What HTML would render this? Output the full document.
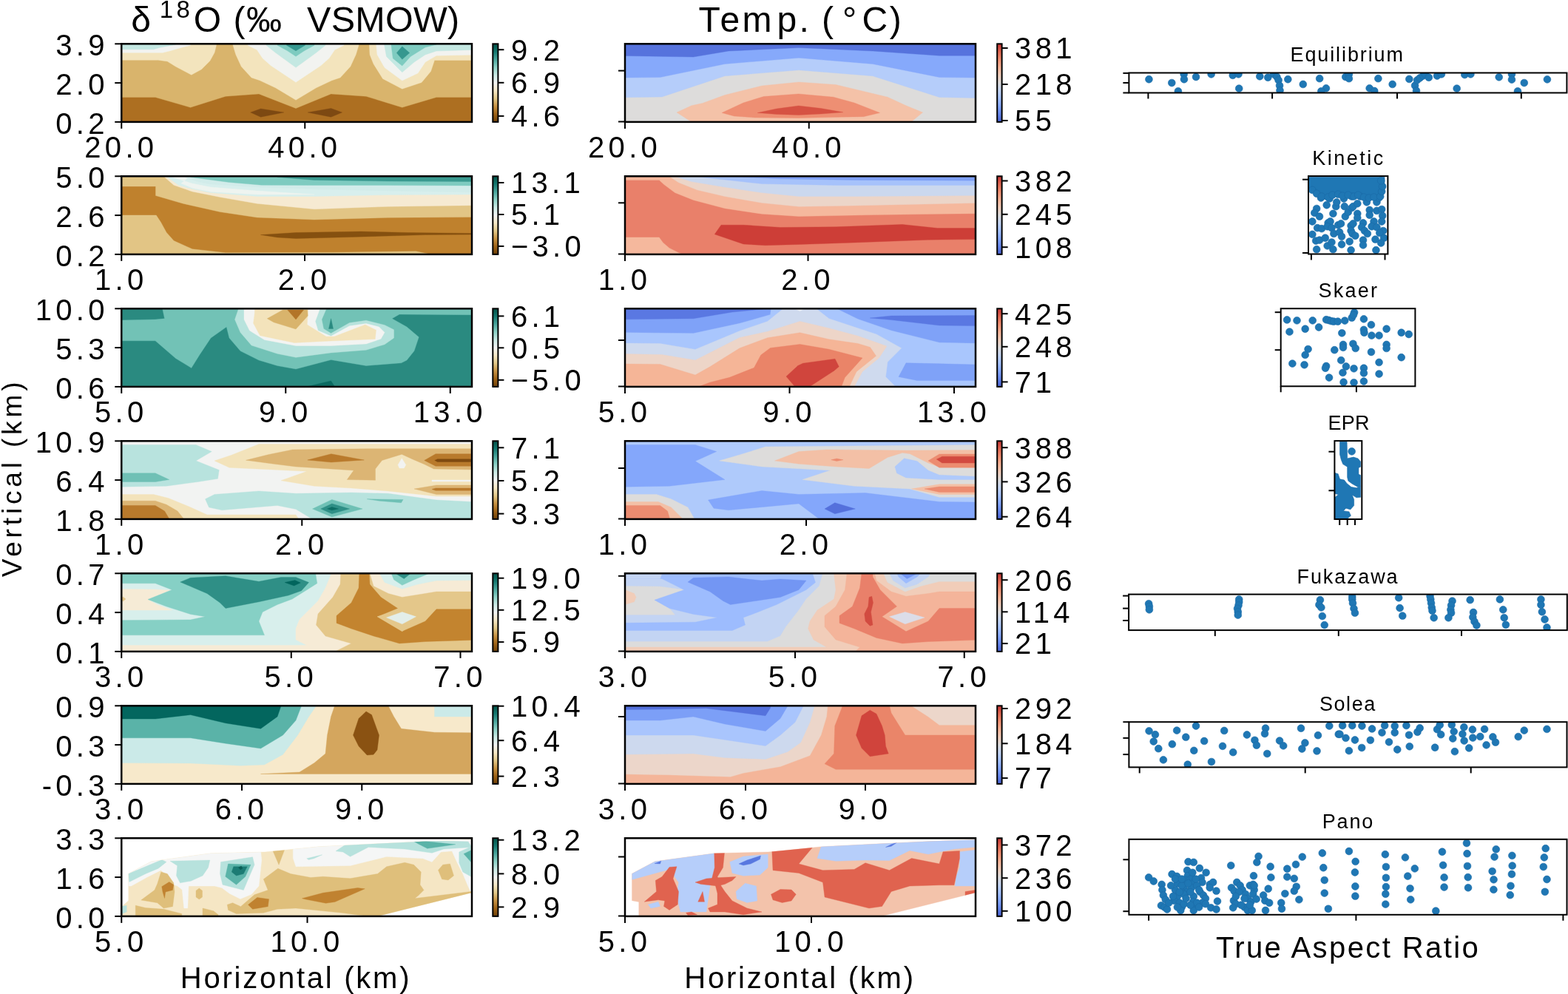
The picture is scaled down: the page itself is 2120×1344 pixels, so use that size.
<!DOCTYPE html><html><head><meta charset="utf-8"><style>html,body{margin:0;padding:0;background:#fff;width:2120px;height:1344px;overflow:hidden}</style></head><body><svg width="2120" height="1344" viewBox="0 0 2120 1344" style="display:block">
<rect x="0" y="0" width="2120" height="1344" fill="#fff"/>
<defs>
<clipPath id="cp00"><rect x="164.25" y="59.3" width="473.75" height="105.6"/></clipPath>
<clipPath id="cp01"><rect x="845.0" y="59.3" width="474.0" height="105.6"/></clipPath>
<clipPath id="cp10"><rect x="164.25" y="238.3" width="473.75" height="105.6"/></clipPath>
<clipPath id="cp11"><rect x="845.0" y="238.3" width="474.0" height="105.6"/></clipPath>
<clipPath id="cp20"><rect x="164.25" y="417.3" width="473.75" height="105.6"/></clipPath>
<clipPath id="cp21"><rect x="845.0" y="417.3" width="474.0" height="105.6"/></clipPath>
<clipPath id="cp30"><rect x="164.25" y="596.3" width="473.75" height="105.6"/></clipPath>
<clipPath id="cp31"><rect x="845.0" y="596.3" width="474.0" height="105.6"/></clipPath>
<clipPath id="cp40"><rect x="164.25" y="775.3" width="473.75" height="105.6"/></clipPath>
<clipPath id="cp41"><rect x="845.0" y="775.3" width="474.0" height="105.6"/></clipPath>
<clipPath id="cp50"><rect x="164.25" y="954.3" width="473.75" height="105.6"/></clipPath>
<clipPath id="cp51"><rect x="845.0" y="954.3" width="474.0" height="105.6"/></clipPath>
<clipPath id="cp60"><rect x="164.25" y="1133.3" width="473.75" height="105.6"/></clipPath>
<clipPath id="cp61"><rect x="845.0" y="1133.3" width="474.0" height="105.6"/></clipPath>
<linearGradient id="gb0" x1="0" y1="1" x2="0" y2="0"><stop offset="0.0" stop-color="#6e4007"/><stop offset="0.1" stop-color="#9f6317"/><stop offset="0.2" stop-color="#c89343"/><stop offset="0.3" stop-color="#e3c989"/><stop offset="0.4" stop-color="#f6e9c7"/><stop offset="0.5" stop-color="#f4f5f5"/><stop offset="0.6" stop-color="#cbebe6"/><stop offset="0.7" stop-color="#8dd2c7"/><stop offset="0.8" stop-color="#4aa69d"/><stop offset="0.9" stop-color="#147870"/><stop offset="1.0" stop-color="#005046"/></linearGradient>
<linearGradient id="gb1" x1="0" y1="1" x2="0" y2="0"><stop offset="0.0" stop-color="#6e4007"/><stop offset="0.1" stop-color="#9f6317"/><stop offset="0.2" stop-color="#c89343"/><stop offset="0.3" stop-color="#e3c989"/><stop offset="0.4" stop-color="#f6e9c7"/><stop offset="0.5" stop-color="#f4f5f5"/><stop offset="0.6" stop-color="#cbebe6"/><stop offset="0.7" stop-color="#8dd2c7"/><stop offset="0.8" stop-color="#4aa69d"/><stop offset="0.9" stop-color="#147870"/><stop offset="1.0" stop-color="#005046"/></linearGradient>
<linearGradient id="gb2" x1="0" y1="1" x2="0" y2="0"><stop offset="0.0" stop-color="#6e4007"/><stop offset="0.1" stop-color="#9f6317"/><stop offset="0.2" stop-color="#c89343"/><stop offset="0.3" stop-color="#e3c989"/><stop offset="0.4" stop-color="#f6e9c7"/><stop offset="0.5" stop-color="#f4f5f5"/><stop offset="0.6" stop-color="#cbebe6"/><stop offset="0.7" stop-color="#8dd2c7"/><stop offset="0.8" stop-color="#4aa69d"/><stop offset="0.9" stop-color="#147870"/><stop offset="1.0" stop-color="#005046"/></linearGradient>
<linearGradient id="gb3" x1="0" y1="1" x2="0" y2="0"><stop offset="0.0" stop-color="#6e4007"/><stop offset="0.1" stop-color="#9f6317"/><stop offset="0.2" stop-color="#c89343"/><stop offset="0.3" stop-color="#e3c989"/><stop offset="0.4" stop-color="#f6e9c7"/><stop offset="0.5" stop-color="#f4f5f5"/><stop offset="0.6" stop-color="#cbebe6"/><stop offset="0.7" stop-color="#8dd2c7"/><stop offset="0.8" stop-color="#4aa69d"/><stop offset="0.9" stop-color="#147870"/><stop offset="1.0" stop-color="#005046"/></linearGradient>
<linearGradient id="gb4" x1="0" y1="1" x2="0" y2="0"><stop offset="0.0" stop-color="#6e4007"/><stop offset="0.1" stop-color="#9f6317"/><stop offset="0.2" stop-color="#c89343"/><stop offset="0.3" stop-color="#e3c989"/><stop offset="0.4" stop-color="#f6e9c7"/><stop offset="0.5" stop-color="#f4f5f5"/><stop offset="0.6" stop-color="#cbebe6"/><stop offset="0.7" stop-color="#8dd2c7"/><stop offset="0.8" stop-color="#4aa69d"/><stop offset="0.9" stop-color="#147870"/><stop offset="1.0" stop-color="#005046"/></linearGradient>
<linearGradient id="gb5" x1="0" y1="1" x2="0" y2="0"><stop offset="0.0" stop-color="#6e4007"/><stop offset="0.1" stop-color="#9f6317"/><stop offset="0.2" stop-color="#c89343"/><stop offset="0.3" stop-color="#e3c989"/><stop offset="0.4" stop-color="#f6e9c7"/><stop offset="0.5" stop-color="#f4f5f5"/><stop offset="0.6" stop-color="#cbebe6"/><stop offset="0.7" stop-color="#8dd2c7"/><stop offset="0.8" stop-color="#4aa69d"/><stop offset="0.9" stop-color="#147870"/><stop offset="1.0" stop-color="#005046"/></linearGradient>
<linearGradient id="gb6" x1="0" y1="1" x2="0" y2="0"><stop offset="0.0" stop-color="#6e4007"/><stop offset="0.1" stop-color="#9f6317"/><stop offset="0.2" stop-color="#c89343"/><stop offset="0.3" stop-color="#e3c989"/><stop offset="0.4" stop-color="#f6e9c7"/><stop offset="0.5" stop-color="#f4f5f5"/><stop offset="0.6" stop-color="#cbebe6"/><stop offset="0.7" stop-color="#8dd2c7"/><stop offset="0.8" stop-color="#4aa69d"/><stop offset="0.9" stop-color="#147870"/><stop offset="1.0" stop-color="#005046"/></linearGradient>
<linearGradient id="gc" x1="0" y1="1" x2="0" y2="0"><stop offset="0.0" stop-color="#4961d2"/><stop offset="0.1" stop-color="#6687ed"/><stop offset="0.2" stop-color="#85a8fc"/><stop offset="0.3" stop-color="#a5c3fe"/><stop offset="0.4" stop-color="#c3d5f4"/><stop offset="0.5" stop-color="#dddcdc"/><stop offset="0.6" stop-color="#f1cdba"/><stop offset="0.7" stop-color="#f7b396"/><stop offset="0.8" stop-color="#f29072"/><stop offset="0.9" stop-color="#e16751"/><stop offset="1.0" stop-color="#c53334"/></linearGradient>
</defs>
<g clip-path="url(#cp00)">
<rect x="164.25" y="59.3" width="473.75" height="105.6" fill="#ad6f21"/>
<polygon transform="translate(150,49) scale(0.25)" points="755,412 810,392 935,412 810,437" fill="#7d4912" stroke="#7d4912" stroke-width="1.5"/>
<polygon transform="translate(150,49) scale(0.25)" points="1065,412 1190,390 1250,412 1190,437" fill="#7d4912" stroke="#7d4912" stroke-width="1.5"/>
<polygon transform="translate(150,49) scale(0.25)" points="0,0 2000,0 2000,330 1760,330 1575,385 1380,325 1190,312 1000,390 800,312 620,325 430,385 240,330 0,330" fill="#d9b46c" stroke="#d9b46c" stroke-width="1.5"/>
<polygon transform="translate(150,49) scale(0.25)" points="0,0 570,0 570,49 560,89 535,134 490,179 435,209 350,164 305,136 255,129 0,129" fill="#f3e4bd" stroke="#f3e4bd" stroke-width="1.5"/>
<polygon transform="translate(150,49) scale(0.25)" points="660,0 1340,0 1340,49 1325,99 1295,164 1240,224 1195,239 1110,279 1000,345 890,279 805,239 760,224 705,164 675,99 660,49" fill="#f3e4bd" stroke="#f3e4bd" stroke-width="1.5"/>
<polygon transform="translate(150,49) scale(0.25)" points="1395,0 2000,0 2000,130 1750,130 1730,190 1680,250 1575,285 1470,230 1420,150 1400,100" fill="#f3e4bd" stroke="#f3e4bd" stroke-width="1.5"/>
<polygon transform="translate(150,49) scale(0.25)" points="0,0 430,0 430,49 390,59 320,79 280,89 0,89" fill="#f2f3f0" stroke="#f2f3f0" stroke-width="1.5"/>
<polygon transform="translate(150,49) scale(0.25)" points="740,0 1260,0 1260,49 1210,74 1180,119 1135,159 1060,209 1000,249 940,209 865,159 820,119 790,74 740,49" fill="#f2f3f0" stroke="#f2f3f0" stroke-width="1.5"/>
<polygon transform="translate(150,49) scale(0.25)" points="1430,0 2000,0 2000,100 1760,105 1700,140 1660,200 1575,240 1480,170 1440,100" fill="#f2f3f0" stroke="#f2f3f0" stroke-width="1.5"/>
<polygon transform="translate(150,49) scale(0.25)" points="0,0 350,0 350,46 320,51 265,61 230,71 0,71" fill="#c4e8e2" stroke="#c4e8e2" stroke-width="1.5"/>
<polygon transform="translate(150,49) scale(0.25)" points="840,0 1160,0 1160,49 1110,89 1000,169 890,89 840,49" fill="#c4e8e2" stroke="#c4e8e2" stroke-width="1.5"/>
<polygon transform="translate(150,49) scale(0.25)" points="1470,0 2000,0 2000,72 1760,80 1700,100 1640,140 1575,195 1490,110" fill="#c4e8e2" stroke="#c4e8e2" stroke-width="1.5"/>
<polygon transform="translate(150,49) scale(0.25)" points="900,0 1100,0 1100,49 1045,79 1000,109 955,79 900,49" fill="#7ecbc0" stroke="#7ecbc0" stroke-width="1.5"/>
<polygon transform="translate(150,49) scale(0.25)" points="1510,0 1760,0 1760,45 1700,60 1620,110 1575,160 1525,120" fill="#7ecbc0" stroke="#7ecbc0" stroke-width="1.5"/>
<polygon transform="translate(150,49) scale(0.25)" points="950,0 1050,0 1050,49 1000,79 950,49" fill="#35978f" stroke="#35978f" stroke-width="1.5"/>
<polygon transform="translate(150,49) scale(0.25)" points="1545,90 1575,55 1615,90 1575,125" fill="#35978f" stroke="#35978f" stroke-width="1.5"/>
</g>
<rect x="164.25" y="59.3" width="473.75" height="105.6" fill="none" stroke="#000" stroke-width="2.5"/>
<g clip-path="url(#cp01)">
<rect x="845.0" y="59.3" width="474.0" height="105.6" fill="#dddcdb"/>
<polygon transform="translate(830,49) scale(0.25)" points="0,0 2000,0 2000,335 1760,330 1400,215 1000,183 600,215 260,328 0,332" fill="#b5cdfa" stroke="#b5cdfa" stroke-width="1.5"/>
<polygon transform="translate(830,49) scale(0.25)" points="0,0 2000,0 2000,225 1760,222 1400,150 1000,117 600,150 250,222 0,225" fill="#86a9fb" stroke="#86a9fb" stroke-width="1.5"/>
<polygon transform="translate(830,49) scale(0.25)" points="0,0 2000,0 2000,105 1760,105 1400,80 1000,62 620,80 430,112 0,105" fill="#5673dd" stroke="#5673dd" stroke-width="1.5"/>
<polygon transform="translate(830,49) scale(0.25)" points="340,412 420,375 480,362 600,318 800,268 1000,248 1200,262 1480,329 1580,375 1670,412 1600,470 430,470" fill="#f4c2a8" stroke="#f4c2a8" stroke-width="1.5"/>
<polygon transform="translate(830,49) scale(0.25)" points="584,414 700,360 810,326 999,312 1187,329 1300,360 1438,414 1350,435 1235,437 999,442 763,440 650,432" fill="#ee8f73" stroke="#ee8f73" stroke-width="1.5"/>
<polygon transform="translate(830,49) scale(0.25)" points="777,414 880,392 999,376 1120,390 1239,411 1120,420 999,426 880,422" fill="#d65243" stroke="#d65243" stroke-width="1.5"/>
</g>
<rect x="845.0" y="59.3" width="474.0" height="105.6" fill="none" stroke="#000" stroke-width="2.5"/>
<g clip-path="url(#cp10)">
<rect x="164.25" y="238.3" width="473.75" height="105.6" fill="#bf812d"/>
<polygon transform="translate(150,228) scale(0.25)" points="810,358 1000,346 1350,340 1600,346 1952,350 2000,350 2000,356 1700,358 1300,370 1000,378 900,372" fill="#85500f" stroke="#85500f" stroke-width="1.5"/>
<polygon transform="translate(150,228) scale(0.25)" points="0,0 2000,0 2000,262 1500,265 1100,276 790,264 590,234 390,189 242,146 242,96 0,96" fill="#e2c585" stroke="#e2c585" stroke-width="1.5"/>
<polygon transform="translate(150,228) scale(0.25)" points="0,252 245,252 270,290 300,345 340,390 440,435 620,455 1200,453 1650,447 1760,470 0,470" fill="#e2c585" stroke="#e2c585" stroke-width="1.5"/>
<polygon transform="translate(150,228) scale(0.25)" points="290,0 2000,0 2000,198 1500,205 1100,219 790,189 590,154 440,124 340,89 290,46" fill="#f6ead2" stroke="#f6ead2" stroke-width="1.5"/>
<polygon transform="translate(150,228) scale(0.25)" points="305,0 2000,0 2000,140 1500,142 1100,150 790,150 540,130 440,110 365,89 305,46" fill="#d8efed" stroke="#d8efed" stroke-width="1.5"/>
<polygon transform="translate(150,228) scale(0.25)" points="305,0 420,0 420,46 380,80 440,105 540,125 790,140 1100,140 790,120 540,100 440,80 330,46" fill="#eef4f0" stroke="#eef4f0" stroke-width="1.5"/>
<polygon transform="translate(150,228) scale(0.25)" points="400,0 2000,0 2000,128 1500,120 1100,110 790,100 540,84 470,70 400,46" fill="#d2ecea" stroke="#d2ecea" stroke-width="1.5"/>
<polygon transform="translate(150,228) scale(0.25)" points="430,0 2000,0 2000,92 1500,90 1100,90 815,89 640,74 430,46" fill="#7ecbc0" stroke="#7ecbc0" stroke-width="1.5"/>
<polygon transform="translate(150,228) scale(0.25)" points="900,0 2000,0 2000,70 1500,68 1100,62 900,46" fill="#3a9a90" stroke="#3a9a90" stroke-width="1.5"/>
</g>
<rect x="164.25" y="238.3" width="473.75" height="105.6" fill="none" stroke="#000" stroke-width="2.5"/>
<g clip-path="url(#cp11)">
<rect x="845.0" y="238.3" width="474.0" height="105.6" fill="#e9806a"/>
<polygon transform="translate(830,228) scale(0.25)" points="0,372 245,372 265,400 300,430 380,470 0,470" fill="#f5b89d" stroke="#f5b89d" stroke-width="1.5"/>
<polygon transform="translate(830,228) scale(0.25)" points="0,0 2000,0 2000,242 1400,250 1000,258 800,245 600,215 430,170 330,130 270,85 245,62 0,62" fill="#f5b89d" stroke="#f5b89d" stroke-width="1.5"/>
<polygon transform="translate(830,228) scale(0.25)" points="300,0 2000,0 2000,185 1300,200 1000,205 800,185 600,150 450,115 350,75 300,42" fill="#ecd5c8" stroke="#ecd5c8" stroke-width="1.5"/>
<polygon transform="translate(830,228) scale(0.25)" points="330,0 2000,0 2000,145 1300,150 1000,150 800,130 600,100 420,70 330,42" fill="#cbd8ee" stroke="#cbd8ee" stroke-width="1.5"/>
<polygon transform="translate(830,228) scale(0.25)" points="430,0 2000,0 2000,90 1200,90 800,82 600,60 430,42" fill="#a6c2fb" stroke="#a6c2fb" stroke-width="1.5"/>
<polygon transform="translate(830,228) scale(0.25)" points="600,0 2000,0 2000,65 1300,62 900,55 600,42" fill="#7fa0f6" stroke="#7fa0f6" stroke-width="1.5"/>
<polygon transform="translate(830,228) scale(0.25)" points="545,355 580,305 700,305 900,318 1200,315 1560,302 1750,322 2000,322 2000,382 1700,385 1300,400 1000,410 820,415 700,408" fill="#cd3e37" stroke="#cd3e37" stroke-width="1.5"/>
</g>
<rect x="845.0" y="238.3" width="474.0" height="105.6" fill="none" stroke="#000" stroke-width="2.5"/>
<g clip-path="url(#cp20)">
<rect x="164.25" y="417.3" width="473.75" height="105.6" fill="#2a8a80"/>
<polygon transform="translate(150,407) scale(0.25)" points="1030,470 1190,432 1215,470" fill="#0b6b62" stroke="#0b6b62" stroke-width="1.5"/>
<polygon transform="translate(150,407) scale(0.25)" points="0,105 240,100 290,95 270,0 2000,0 2000,75 1560,72 1520,95 1600,140 1665,195 1640,270 1600,320 1570,335 1380,350 1190,318 1000,368 900,350 800,320 700,270 640,200 625,140 540,200 480,290 435,362 350,310 240,215 0,215" fill="#72c2b6" stroke="#72c2b6" stroke-width="1.5"/>
<polygon transform="translate(150,407) scale(0.25)" points="1178,150 1190,95 1202,150" fill="#2a8a80" stroke="#2a8a80" stroke-width="1.5"/>
<polygon transform="translate(150,407) scale(0.25)" points="700,0 1165,0 1165,42 1140,100 1150,150 1190,175 1290,118 1380,105 1480,130 1530,155 1530,200 1480,235 1380,265 1190,280 1000,305 900,285 760,240 700,170 670,100 690,42" fill="#b8e3dd" stroke="#b8e3dd" stroke-width="1.5"/>
<polygon transform="translate(150,407) scale(0.25)" points="720,0 1130,0 1130,42 1105,110 1120,160 1190,190 1290,135 1380,122 1450,140 1480,170 1460,205 1380,232 1190,242 1000,242 830,210 750,160 720,100" fill="#f3f4f2" stroke="#f3f4f2" stroke-width="1.5"/>
<polygon transform="translate(150,407) scale(0.25)" points="780,0 1070,0 1066,49 1061,128 1164,192 1208,192 1375,128 1434,157 1429,206 1189,216 992,226 806,187 770,120 777,69" fill="#f3e3bb" stroke="#f3e3bb" stroke-width="1.5"/>
<polygon transform="translate(150,407) scale(0.25)" points="845,95 930,48 1062,48 1065,80 1000,152 880,115" fill="#d9b46c" stroke="#d9b46c" stroke-width="1.5"/>
<polygon transform="translate(150,407) scale(0.25)" points="955,48 1042,48 1000,100" fill="#b37528" stroke="#b37528" stroke-width="1.5"/>
</g>
<rect x="164.25" y="417.3" width="473.75" height="105.6" fill="none" stroke="#000" stroke-width="2.5"/>
<g clip-path="url(#cp21)">
<rect x="845.0" y="417.3" width="474.0" height="105.6" fill="#7fa2f8"/>
<polygon transform="translate(830,407) scale(0.25)" points="0,170 430,175 680,121 846,74 855,0 1119,0 1320,98 1500,160 1760,225 2000,230 2000,470 0,470" fill="#a9c6fd" stroke="#a9c6fd" stroke-width="1.5"/>
<polygon transform="translate(830,407) scale(0.25)" points="0,228 250,230 440,262 680,162 831,110 967,0 1042,0 1163,95 1320,147 1420,180 1555,255 1480,330 1470,410 1530,470 0,470" fill="#cfdaee" stroke="#cfdaee" stroke-width="1.5"/>
<polygon transform="translate(830,407) scale(0.25)" points="1580,335 2000,345 2000,430 1640,430 1540,410" fill="#7fa2f8" stroke="#7fa2f8" stroke-width="1.5"/>
<polygon transform="translate(830,407) scale(0.25)" points="0,285 260,290 440,320 680,198 831,165 1006,110 1163,147 1320,189 1476,244 1434,308 1344,382 1296,470 0,470" fill="#edd5c8" stroke="#edd5c8" stroke-width="1.5"/>
<polygon transform="translate(830,407) scale(0.25)" points="0,340 250,342 440,400 520,355 680,255 831,199 1006,171 1163,207 1320,230 1386,250 1418,297 1312,382 1270,470 0,470" fill="#f5b597" stroke="#f5b597" stroke-width="1.5"/>
<polygon transform="translate(830,407) scale(0.25)" points="440,470 520,440 626,413 758,361 795,292 846,254 1006,234 1163,261 1344,308 1249,414 1228,470" fill="#ea8468" stroke="#ea8468" stroke-width="1.5"/>
<polygon transform="translate(830,407) scale(0.25)" points="932,408 995,350 1022,337 1196,313 1217,355 1191,377 1048,470 985,470" fill="#d0453d" stroke="#d0453d" stroke-width="1.5"/>
<polygon transform="translate(830,407) scale(0.25)" points="0,0 840,0 830,42 640,60 430,95 0,100" fill="#5a78e2" stroke="#5a78e2" stroke-width="1.5"/>
<polygon transform="translate(830,407) scale(0.25)" points="1385,92 1500,80 2000,78 2000,135 1760,132 1500,102" fill="#5a78e2" stroke="#5a78e2" stroke-width="1.5"/>
<polygon transform="translate(830,407) scale(0.25)" points="975,40 1035,40 1006,55" fill="#e9edf4" stroke="#e9edf4" stroke-width="1.5"/>
</g>
<rect x="845.0" y="417.3" width="474.0" height="105.6" fill="none" stroke="#000" stroke-width="2.5"/>
<g clip-path="url(#cp30)">
<rect x="164.25" y="596.3" width="473.75" height="105.6" fill="#f2f3f2"/>
<polygon transform="translate(150,586) scale(0.25)" points="0,62 460,62 545,98 460,148 585,198 578,245 470,262 300,285 0,290" fill="#b8e3de" stroke="#b8e3de" stroke-width="1.5"/>
<polygon transform="translate(150,586) scale(0.25)" points="510,355 560,330 800,312 1000,325 1300,320 1500,325 1760,360 1952,370 2000,370 2000,470 1100,470 1000,410 900,390 600,415 530,400" fill="#b8e3de" stroke="#b8e3de" stroke-width="1.5"/>
<polygon transform="translate(150,586) scale(0.25)" points="0,215 240,215 315,250 240,262 0,262" fill="#6fc0b5" stroke="#6fc0b5" stroke-width="1.5"/>
<polygon transform="translate(150,586) scale(0.25)" points="1090,408 1195,358 1360,408 1195,452" fill="#6fc0b5" stroke="#6fc0b5" stroke-width="1.5"/>
<polygon transform="translate(150,586) scale(0.25)" points="1385,355 1580,358 1570,375 1450,365" fill="#6fc0b5" stroke="#6fc0b5" stroke-width="1.5"/>
<polygon transform="translate(150,586) scale(0.25)" points="1135,408 1195,380 1290,408 1195,435" fill="#2f8f86" stroke="#2f8f86" stroke-width="1.5"/>
<polygon transform="translate(150,586) scale(0.25)" points="1170,408 1195,398 1230,408 1195,416" fill="#0d6d64" stroke="#0d6d64" stroke-width="1.5"/>
<polygon transform="translate(150,586) scale(0.25)" points="560,148 650,118 800,58 2000,58 2000,340 1760,340 1500,312 1300,296 1100,285 920,255 1060,205 640,185" fill="#f3e3bb" stroke="#f3e3bb" stroke-width="1.5"/>
<polygon transform="translate(150,586) scale(0.25)" points="0,330 230,330 310,350 420,395 520,440 1000,440 1020,470 0,470" fill="#f3e3bb" stroke="#f3e3bb" stroke-width="1.5"/>
<polygon transform="translate(150,586) scale(0.25)" points="730,145 850,115 982,88 1389,83 2000,83 2000,197 1746,192 1695,167 1634,141 1573,113 1466,146 1430,192 1430,253 1277,250 1313,200 1000,180 880,165" fill="#dcb574" stroke="#dcb574" stroke-width="1.5"/>
<polygon transform="translate(150,586) scale(0.25)" points="1640,300 1760,280 2000,280 2000,330 1760,330" fill="#dcb574" stroke="#dcb574" stroke-width="1.5"/>
<polygon transform="translate(150,586) scale(0.25)" points="0,365 240,365 300,385 360,420 400,470 0,470" fill="#dcb574" stroke="#dcb574" stroke-width="1.5"/>
<polygon transform="translate(150,586) scale(0.25)" points="1063,144 1191,111 1369,144 1191,156" fill="#b97a2c" stroke="#b97a2c" stroke-width="1.5"/>
<polygon transform="translate(150,586) scale(0.25)" points="1695,146 1756,111 2000,111 2000,177 1756,177" fill="#b97a2c" stroke="#b97a2c" stroke-width="1.5"/>
<polygon transform="translate(150,586) scale(0.25)" points="1736,302 1756,296 2000,296 2000,309 1756,309" fill="#b97a2c" stroke="#b97a2c" stroke-width="1.5"/>
<polygon transform="translate(150,586) scale(0.25)" points="0,390 240,390 290,420 320,470 0,470" fill="#b97a2c" stroke="#b97a2c" stroke-width="1.5"/>
<polygon transform="translate(150,586) scale(0.25)" points="1751,146 1766,139 2000,139 2000,154 1766,154" fill="#7f4a10" stroke="#7f4a10" stroke-width="1.5"/>
<polygon transform="translate(150,586) scale(0.25)" points="1573,135 1595,170 1585,188 1560,188 1552,170" fill="#f2f3f2" stroke="#f2f3f2" stroke-width="1.5"/>
<polygon transform="translate(150,586) scale(0.25)" points="1736,252 2000,252 2000,260 1736,260" fill="#f2f3f2" stroke="#f2f3f2" stroke-width="1.5"/>
</g>
<rect x="164.25" y="596.3" width="473.75" height="105.6" fill="none" stroke="#000" stroke-width="2.5"/>
<g clip-path="url(#cp31)">
<rect x="845.0" y="596.3" width="474.0" height="105.6" fill="#afcafb"/>
<polygon transform="translate(830,586) scale(0.25)" points="0,62 440,62 555,98 440,150 600,250 300,285 0,290" fill="#84a7fb" stroke="#84a7fb" stroke-width="1.5"/>
<polygon transform="translate(830,586) scale(0.25)" points="510,360 800,310 1000,330 1360,322 1760,370 2000,372 2000,470 1120,470 1000,380 620,415 540,405" fill="#84a7fb" stroke="#84a7fb" stroke-width="1.5"/>
<polygon transform="translate(830,586) scale(0.25)" points="1140,408 1195,375 1305,408 1195,435" fill="#5470dc" stroke="#5470dc" stroke-width="1.5"/>
<polygon transform="translate(830,586) scale(0.25)" points="570,148 700,110 820,72 2000,62 2000,345 1760,345 1600,300 1300,285 1020,250 1170,200 800,180" fill="#dddcdb" stroke="#dddcdb" stroke-width="1.5"/>
<polygon transform="translate(830,586) scale(0.25)" points="1520,180 1570,135 1640,150 1700,200 1760,225 2000,235 2000,250 1760,250 1580,240 1530,215" fill="#afcafb" stroke="#afcafb" stroke-width="1.5"/>
<polygon transform="translate(830,586) scale(0.25)" points="870,148 1000,98 1150,88 1580,92 2000,90 2000,185 1760,182 1700,160 1600,110 1560,105 1480,130 1380,190 1200,180 1000,165" fill="#f3c0a6" stroke="#f3c0a6" stroke-width="1.5"/>
<polygon transform="translate(830,586) scale(0.25)" points="1175,143 1205,136 1240,143 1205,150" fill="#ec8c70" stroke="#ec8c70" stroke-width="1.5"/>
<polygon transform="translate(830,586) scale(0.25)" points="1700,148 1760,112 2000,112 2000,185 1760,185" fill="#ec8c70" stroke="#ec8c70" stroke-width="1.5"/>
<polygon transform="translate(830,586) scale(0.25)" points="1745,140 1775,125 2000,125 2000,160 1775,160" fill="#d24a40" stroke="#d24a40" stroke-width="1.5"/>
<polygon transform="translate(830,586) scale(0.25)" points="1610,300 1760,275 2000,275 2000,330 1760,330" fill="#f3c0a6" stroke="#f3c0a6" stroke-width="1.5"/>
<polygon transform="translate(830,586) scale(0.25)" points="1680,300 1760,288 2000,288 2000,318 1760,318" fill="#ec8c70" stroke="#ec8c70" stroke-width="1.5"/>
<polygon transform="translate(830,586) scale(0.25)" points="0,330 230,330 310,355 400,400 440,470 0,470" fill="#dddcdb" stroke="#dddcdb" stroke-width="1.5"/>
<polygon transform="translate(830,586) scale(0.25)" points="0,370 240,370 310,400 380,470 0,470" fill="#f3c0a6" stroke="#f3c0a6" stroke-width="1.5"/>
<polygon transform="translate(830,586) scale(0.25)" points="0,390 250,390 290,420 305,470 0,470" fill="#ec8c70" stroke="#ec8c70" stroke-width="1.5"/>
</g>
<rect x="845.0" y="596.3" width="474.0" height="105.6" fill="none" stroke="#000" stroke-width="2.5"/>
<g clip-path="url(#cp40)">
<rect x="164.25" y="775.3" width="473.75" height="105.6" fill="#d8efec"/>
<polygon transform="translate(150,765) scale(0.25)" points="1210,0 2000,0 2000,470 0,470 0,430 1060,430 1000,400 1000,340 1020,290 1070,240 1120,190 1160,120" fill="#f6ebd6" stroke="#f6ebd6" stroke-width="1.5"/>
<polygon transform="translate(150,765) scale(0.25)" points="0,125 240,128 320,132 200,182 250,210 330,240 0,240" fill="#f6ebd6" stroke="#f6ebd6" stroke-width="1.5"/>
<polygon transform="translate(150,765) scale(0.25)" points="50,180 65,168 80,180 65,192" fill="#e4c78a" stroke="#e4c78a" stroke-width="1.5"/>
<polygon transform="translate(150,765) scale(0.25)" points="0,0 1100,0 1115,95 1060,130 980,180 900,210 820,250 800,300 830,375 0,375 0,295 430,292 510,275 430,262 300,220 200,182 330,130 240,95 0,95" fill="#86d0c5" stroke="#86d0c5" stroke-width="1.5"/>
<polygon transform="translate(150,765) scale(0.25)" points="375,88 430,65 620,55 800,85 920,62 1000,62 1070,90 1030,135 960,160 800,195 620,230 590,200 520,150 450,120" fill="#2f8f86" stroke="#2f8f86" stroke-width="1.5"/>
<polygon transform="translate(150,765) scale(0.25)" points="940,90 995,78 1025,92 990,108" fill="#02655d" stroke="#02655d" stroke-width="1.5"/>
<polygon transform="translate(150,765) scale(0.25)" points="1245,0 1400,0 1400,42 1420,110 1500,150 1575,170 1700,150 1760,140 2000,140 2000,470 1200,470 1300,420 1160,380 1110,320 1120,260 1200,170 1240,100" fill="#e4c78a" stroke="#e4c78a" stroke-width="1.5"/>
<polygon transform="translate(150,765) scale(0.25)" points="1430,0 2000,0 2000,78 1760,80 1660,100 1575,125 1480,90" fill="#d8efec" stroke="#d8efec" stroke-width="1.5"/>
<polygon transform="translate(150,765) scale(0.25)" points="1500,0 1720,0 1720,42 1640,75 1575,105 1530,75" fill="#86d0c5" stroke="#86d0c5" stroke-width="1.5"/>
<polygon transform="translate(150,765) scale(0.25)" points="1540,42 1620,42 1585,70" fill="#2f8f86" stroke="#2f8f86" stroke-width="1.5"/>
<polygon transform="translate(150,765) scale(0.25)" points="1345,0 1395,0 1400,100 1460,170 1550,230 1440,275 1575,355 1700,300 1760,235 2000,235 2000,400 1700,410 1560,420 1420,380 1300,340 1220,310 1220,270 1300,200 1340,120" fill="#c3842f" stroke="#c3842f" stroke-width="1.5"/>
<polygon transform="translate(150,765) scale(0.25)" points="1440,275 1560,240 1670,275 1575,355" fill="#e4c78a" stroke="#e4c78a" stroke-width="1.5"/>
<polygon transform="translate(150,765) scale(0.25)" points="1490,280 1575,250 1650,275 1575,315" fill="#e3eeea" stroke="#e3eeea" stroke-width="1.5"/>
</g>
<rect x="164.25" y="775.3" width="473.75" height="105.6" fill="none" stroke="#000" stroke-width="2.5"/>
<g clip-path="url(#cp41)">
<rect x="845.0" y="775.3" width="474.0" height="105.6" fill="#c3d4f3"/>
<polygon transform="translate(830,765) scale(0.25)" points="1130,0 2000,0 2000,470 0,470 0,410 830,410 900,380 930,330 1000,240 1040,180 1110,110 1130,42" fill="#dcdcdc" stroke="#dcdcdc" stroke-width="1.5"/>
<polygon transform="translate(830,765) scale(0.25)" points="0,110 250,112 380,130 220,185 300,230 330,265 0,265" fill="#dcdcdc" stroke="#dcdcdc" stroke-width="1.5"/>
<polygon transform="translate(830,765) scale(0.25)" points="1185,0 2000,0 2000,470 0,470 0,440 1150,440 1080,400 1050,340 1060,300 1100,240 1190,180 1200,130" fill="#f1cdb9" stroke="#f1cdb9" stroke-width="1.5"/>
<polygon transform="translate(830,765) scale(0.25)" points="60,130 110,150 120,170 110,195 60,210" fill="#f1cdb9" stroke="#f1cdb9" stroke-width="1.5"/>
<polygon transform="translate(830,765) scale(0.25)" points="1265,0 1400,0 1420,80 1500,140 1580,165 1700,150 1760,140 2000,140 2000,470 1300,470 1330,440 1200,400 1140,330 1140,270 1200,220 1250,130" fill="#f4b49a" stroke="#f4b49a" stroke-width="1.5"/>
<polygon transform="translate(830,765) scale(0.25)" points="1440,0 2000,0 2000,85 1760,85 1660,110 1575,140 1480,90" fill="#dcdcdc" stroke="#dcdcdc" stroke-width="1.5"/>
<polygon transform="translate(830,765) scale(0.25)" points="1470,0 1740,0 1700,60 1640,100 1575,120 1510,80" fill="#c3d4f3" stroke="#c3d4f3" stroke-width="1.5"/>
<polygon transform="translate(830,765) scale(0.25)" points="1510,0 1700,0 1640,60 1580,95 1540,60" fill="#9dbcfe" stroke="#9dbcfe" stroke-width="1.5"/>
<polygon transform="translate(830,765) scale(0.25)" points="1550,42 1640,42 1585,70" fill="#7396f3" stroke="#7396f3" stroke-width="1.5"/>
<polygon transform="translate(830,765) scale(0.25)" points="0,0 1060,0 1090,90 1040,130 960,170 880,210 780,250 700,280 710,320 640,350 0,350 0,310 440,305 560,280 430,262 300,230 220,185 380,130 260,70 0,70" fill="#9dbcfe" stroke="#9dbcfe" stroke-width="1.5"/>
<polygon transform="translate(830,765) scale(0.25)" points="0,0 260,0 260,42 250,70 0,70" fill="#c3d4f3" stroke="#c3d4f3" stroke-width="1.5"/>
<polygon transform="translate(830,765) scale(0.25)" points="400,88 430,65 620,60 800,80 900,72 1040,80 1000,130 900,170 800,185 630,210 590,190 520,140" fill="#7396f3" stroke="#7396f3" stroke-width="1.5"/>
<polygon transform="translate(830,765) scale(0.25)" points="1345,0 1400,0 1400,60 1440,130 1530,220 1450,275 1580,355 1700,300 1760,230 2000,230 2000,400 1700,410 1560,420 1420,390 1300,340 1220,310 1220,270 1290,220 1330,120" fill="#e9806a" stroke="#e9806a" stroke-width="1.5"/>
<polygon transform="translate(830,765) scale(0.25)" points="1490,275 1575,250 1680,280 1575,315" fill="#dcdde8" stroke="#dcdde8" stroke-width="1.5"/>
<polygon transform="translate(830,765) scale(0.25)" points="1380,170 1395,165 1402,200 1390,250 1400,320 1385,325 1360,300 1355,260 1375,220" fill="#d24b40" stroke="#d24b40" stroke-width="1.5"/>
</g>
<rect x="845.0" y="775.3" width="474.0" height="105.6" fill="none" stroke="#000" stroke-width="2.5"/>
<g clip-path="url(#cp50)">
<rect x="164.25" y="954.3" width="473.75" height="105.6" fill="#f7e9cb"/>
<polygon transform="translate(150,944) scale(0.25)" points="0,0 1110,0 1110,42 1070,100 1010,200 930,305 830,360 700,365 430,352 0,350" fill="#cbeae8" stroke="#cbeae8" stroke-width="1.5"/>
<polygon transform="translate(150,944) scale(0.25)" points="1750,42 2000,42 2000,100 1750,100" fill="#cbeae8" stroke="#cbeae8" stroke-width="1.5"/>
<polygon transform="translate(150,944) scale(0.25)" points="0,0 1040,0 1030,42 1000,120 930,200 810,272 620,245 430,215 0,215" fill="#5ab3a8" stroke="#5ab3a8" stroke-width="1.5"/>
<polygon transform="translate(150,944) scale(0.25)" points="0,0 930,0 920,42 900,100 810,165 620,135 430,90 240,112 0,112" fill="#03665e" stroke="#03665e" stroke-width="1.5"/>
<polygon transform="translate(150,944) scale(0.25)" points="1215,0 1490,0 1500,42 1530,100 1570,165 1750,185 2000,188 2000,410 810,410 1020,400 1100,350 1160,300 1170,200 1190,100 1210,42" fill="#d4a65e" stroke="#d4a65e" stroke-width="1.5"/>
<polygon transform="translate(150,944) scale(0.25)" points="1310,200 1340,110 1380,72 1410,90 1450,200 1440,280 1420,305 1385,308 1340,260" fill="#8a5212" stroke="#8a5212" stroke-width="1.5"/>
</g>
<rect x="164.25" y="954.3" width="473.75" height="105.6" fill="none" stroke="#000" stroke-width="2.5"/>
<g clip-path="url(#cp51)">
<rect x="845.0" y="954.3" width="474.0" height="105.6" fill="#f4b599"/>
<polygon transform="translate(830,944) scale(0.25)" points="0,0 1160,0 1150,100 1120,200 1060,310 900,370 700,405 630,425 300,415 0,410" fill="#ecd6ca" stroke="#ecd6ca" stroke-width="1.5"/>
<polygon transform="translate(830,944) scale(0.25)" points="1600,0 2000,0 2000,145 1760,145 1700,100 1610,42" fill="#ecd6ca" stroke="#ecd6ca" stroke-width="1.5"/>
<polygon transform="translate(830,944) scale(0.25)" points="0,0 1095,0 1085,42 1060,130 1010,240 940,290 820,330 600,322 430,300 0,305" fill="#cdd9ee" stroke="#cdd9ee" stroke-width="1.5"/>
<polygon transform="translate(830,944) scale(0.25)" points="0,0 1030,0 1025,42 980,130 900,200 820,258 600,225 430,200 0,200" fill="#a9c5fd" stroke="#a9c5fd" stroke-width="1.5"/>
<polygon transform="translate(830,944) scale(0.25)" points="0,0 950,0 940,42 900,110 820,178 600,140 430,100 250,120 0,120" fill="#7c9ff7" stroke="#7c9ff7" stroke-width="1.5"/>
<polygon transform="translate(830,944) scale(0.25)" points="0,0 860,0 845,55 820,95 700,80 500,55 250,60 0,62" fill="#5572dd" stroke="#5572dd" stroke-width="1.5"/>
<polygon transform="translate(830,944) scale(0.25)" points="1140,355 1190,300 1195,150 1230,60 1250,0 1480,0 1500,80 1575,200 2000,200 2000,385 1200,385" fill="#ea8569" stroke="#ea8569" stroke-width="1.5"/>
<polygon transform="translate(830,944) scale(0.25)" points="1310,200 1340,95 1385,65 1420,85 1450,150 1465,200 1470,260 1485,300 1385,315 1340,270" fill="#d0443c" stroke="#d0443c" stroke-width="1.5"/>
</g>
<rect x="845.0" y="954.3" width="474.0" height="105.6" fill="none" stroke="#000" stroke-width="2.5"/>
<g clip-path="url(#cp60)">
<rect x="164.25" y="1133.3" width="473.75" height="105.6" fill="#ffffff"/>
<polygon transform="translate(150,1123) scale(0.25)" points="95,233 219,167 540,123 832,116 1124,87 1416,72 1708,58 1957,50 2000,50 2000,330 1956,335 1416,470 60,470 60,410 95,379" fill="#f5e6c4" stroke="#f5e6c4" stroke-width="1.5"/>
<clipPath id="dc60"><polygon transform="translate(150,1123) scale(0.25)" points="95,233 219,167 540,123 832,116 1124,87 1416,72 1708,58 1957,50 2000,50 2000,330 1956,335 1416,470 60,470 60,410 95,379"/></clipPath><g clip-path="url(#dc60)">
<polygon transform="translate(150,1123) scale(0.25)" points="0,0 800,0 815,160 800,300 760,345 700,370 640,340 600,310 560,300 470,300 420,300 415,420 395,420 385,320 360,300 330,290 300,240 270,215 200,250 110,300 0,300" fill="#f5f6f6" stroke="#f5f6f6" stroke-width="1.5"/>
<polygon transform="translate(150,1123) scale(0.25)" points="985,0 2000,0 2000,335 1947,335 1932,303 1903,234 1873,175 1844,111 1785,116 1736,170 1687,151 1491,141 1294,190 1000,195 985,150" fill="#f5f6f6" stroke="#f5f6f6" stroke-width="1.5"/>
<polygon transform="translate(150,1123) scale(0.25)" points="94,234 275,158 300,170 256,205 187,234 99,278" fill="#b7e2dd" stroke="#b7e2dd" stroke-width="1.5"/>
<polygon transform="translate(150,1123) scale(0.25)" points="320,165 535,160 526,200 496,244 432,273 374,283 354,244 359,190" fill="#b7e2dd" stroke="#b7e2dd" stroke-width="1.5"/>
<polygon transform="translate(150,1123) scale(0.25)" points="594,170 766,143 776,185 742,263 717,322 604,293 590,234" fill="#b7e2dd" stroke="#b7e2dd" stroke-width="1.5"/>
<polygon transform="translate(150,1123) scale(0.25)" points="1216,111 1275,72 1491,57 1623,52 1932,60 1952,90 1800,100 1736,121 1589,100 1392,90 1294,141 1255,116" fill="#b7e2dd" stroke="#b7e2dd" stroke-width="1.5"/>
<polygon transform="translate(150,1123) scale(0.25)" points="1883,116 1947,87 1947,249 1903,224 1883,175" fill="#b7e2dd" stroke="#b7e2dd" stroke-width="1.5"/>
<polygon transform="translate(150,1123) scale(0.25)" points="1059,151 1142,131 1098,151 1069,158" fill="#b7e2dd" stroke="#b7e2dd" stroke-width="1.5"/>
<polygon transform="translate(150,1123) scale(0.25)" points="60,410 85,405 85,440 60,450" fill="#b7e2dd" stroke="#b7e2dd" stroke-width="1.5"/>
<polygon transform="translate(150,1123) scale(0.25)" points="634,180 756,185 727,249 678,293 619,249" fill="#5ab3a8" stroke="#5ab3a8" stroke-width="1.5"/>
<polygon transform="translate(150,1123) scale(0.25)" points="1623,50 1863,75 1711,97 1662,72" fill="#5ab3a8" stroke="#5ab3a8" stroke-width="1.5"/>
<polygon transform="translate(150,1123) scale(0.25)" points="1908,126 1947,107 1947,170" fill="#5ab3a8" stroke="#5ab3a8" stroke-width="1.5"/>
<polygon transform="translate(150,1123) scale(0.25)" points="663,195 737,195 717,234 678,244 653,224" fill="#1c7c74" stroke="#1c7c74" stroke-width="1.5"/>
<polygon transform="translate(150,1123) scale(0.25)" points="690,200 705,192 712,205 700,212" fill="#0b5e55" stroke="#0b5e55" stroke-width="1.5"/>
<polygon transform="translate(150,1123) scale(0.25)" points="271,224 305,234 339,283 344,332 334,411 285,420 251,391 163,376 236,322 251,288" fill="#dfbf7b" stroke="#dfbf7b" stroke-width="1.5"/>
<polygon transform="translate(150,1123) scale(0.25)" points="133,405 187,418 285,425 383,450 383,470 133,470" fill="#dfbf7b" stroke="#dfbf7b" stroke-width="1.5"/>
<polygon transform="translate(150,1123) scale(0.25)" points="477,312 494,325 494,360 477,372 460,360 460,325" fill="#dfbf7b" stroke="#dfbf7b" stroke-width="1.5"/>
<polygon transform="translate(150,1123) scale(0.25)" points="496,420 555,435 580,455 580,470 496,470" fill="#dfbf7b" stroke="#dfbf7b" stroke-width="1.5"/>
<polygon transform="translate(150,1123) scale(0.25)" points="874,106 938,106 908,185" fill="#dfbf7b" stroke="#dfbf7b" stroke-width="1.5"/>
<polygon transform="translate(150,1123) scale(0.25)" points="629,401 658,391 702,411 776,347 849,322 825,263 903,205 972,234 1080,254 1147,249 1294,259 1442,234 1491,195 1589,173 1638,185 1677,224 1672,293 1692,322 1662,352 1643,367 1947,330 1952,345 1442,470 1250,445 1000,420 900,425 825,445 678,450 634,430" fill="#dfbf7b" stroke="#dfbf7b" stroke-width="1.5"/>
<polygon transform="translate(150,1123) scale(0.25)" points="1770,214 1795,185 1834,180 1854,244 1824,268 1790,263" fill="#dfbf7b" stroke="#dfbf7b" stroke-width="1.5"/>
<polygon transform="translate(150,1123) scale(0.25)" points="275,303 315,278 339,293 334,322 295,332 290,366 280,332" fill="#c08230" stroke="#c08230" stroke-width="1.5"/>
<polygon transform="translate(150,1123) scale(0.25)" points="742,401 791,362 854,371 849,411 766,425" fill="#c08230" stroke="#c08230" stroke-width="1.5"/>
<polygon transform="translate(150,1123) scale(0.25)" points="1034,367 1147,337 1334,310 1373,315 1211,386 1162,393 1049,371" fill="#c08230" stroke="#c08230" stroke-width="1.5"/>
</g></g>
<rect x="164.25" y="1133.3" width="473.75" height="105.6" fill="none" stroke="#000" stroke-width="2.5"/>
<g clip-path="url(#cp61)">
<rect x="845.0" y="1133.3" width="474.0" height="105.6" fill="#ffffff"/>
<polygon transform="translate(830,1123) scale(0.25)" points="98,233 222,167 543,123 835,116 1127,87 1419,72 1711,58 1960,50 2000,50 2000,330 1959,335 1419,470 135,470 135,386 98,379" fill="#f3c3ab" stroke="#f3c3ab" stroke-width="1.5"/>
<clipPath id="dc61"><polygon transform="translate(830,1123) scale(0.25)" points="98,233 222,167 543,123 835,116 1127,87 1419,72 1711,58 1960,50 2000,50 2000,330 1959,335 1419,470 135,470 135,386 98,379"/></clipPath><g clip-path="url(#dc61)">
<polygon transform="translate(830,1123) scale(0.25)" points="0,0 540,0 545,190 560,250 520,300 500,440 360,440 340,360 350,280 300,210 100,265 0,265" fill="#b6cefa" stroke="#b6cefa" stroke-width="1.5"/>
<polygon transform="translate(830,1123) scale(0.25)" points="627,170 700,140 833,128 833,200 790,240 700,245 640,230" fill="#b6cefa" stroke="#b6cefa" stroke-width="1.5"/>
<polygon transform="translate(830,1123) scale(0.25)" points="660,330 710,285 770,300 775,380 720,390 665,370" fill="#b6cefa" stroke="#b6cefa" stroke-width="1.5"/>
<polygon transform="translate(830,1123) scale(0.25)" points="1150,0 2000,0 2000,85 1840,100 1700,128 1600,108 1490,162 1360,160 1200,165 1100,150" fill="#b6cefa" stroke="#b6cefa" stroke-width="1.5"/>
<polygon transform="translate(830,1123) scale(0.25)" points="1870,115 2000,100 2000,300 1845,300 1850,250 1870,200" fill="#b6cefa" stroke="#b6cefa" stroke-width="1.5"/>
<polygon transform="translate(830,1123) scale(0.25)" points="185,400 240,385 250,410 200,420" fill="#b6cefa" stroke="#b6cefa" stroke-width="1.5"/>
<polygon transform="translate(830,1123) scale(0.25)" points="676,180 720,160 794,136 790,155 740,180 700,188" fill="#5878e0" stroke="#5878e0" stroke-width="1.5"/>
<polygon transform="translate(830,1123) scale(0.25)" points="1470,90 1500,75 1530,65 1500,85" fill="#5878e0" stroke="#5878e0" stroke-width="1.5"/>
<polygon transform="translate(830,1123) scale(0.25)" points="1540,58 1570,55 1560,62" fill="#5878e0" stroke="#5878e0" stroke-width="1.5"/>
<polygon transform="translate(830,1123) scale(0.25)" points="220,178 255,165 250,180" fill="#5878e0" stroke="#5878e0" stroke-width="1.5"/>
<polygon transform="translate(830,1123) scale(0.25)" points="300,198 340,195 320,260 350,330 345,400 300,430 270,410 275,380 240,375 165,385 230,330 225,270 260,250" fill="#e0634f" stroke="#e0634f" stroke-width="1.5"/>
<polygon transform="translate(830,1123) scale(0.25)" points="540,0 610,0 590,200 560,250 580,300 600,330 640,380 720,420 800,440 700,455 600,440 520,440 510,420 560,400 560,340 550,300 530,260 545,200" fill="#e0634f" stroke="#e0634f" stroke-width="1.5"/>
<polygon transform="translate(830,1123) scale(0.25)" points="440,280 500,260 560,255 660,250 640,270 600,290 560,300 470,290" fill="#e0634f" stroke="#e0634f" stroke-width="1.5"/>
<polygon transform="translate(830,1123) scale(0.25)" points="455,385 480,330 490,385" fill="#e0634f" stroke="#e0634f" stroke-width="1.5"/>
<polygon transform="translate(830,1123) scale(0.25)" points="850,0 1150,0 1000,180 1130,215 1300,210 1360,175 1490,215 1610,150 1760,180 1780,115 1870,110 1870,150 1850,250 1840,295 1760,295 1600,300 1500,330 1450,410 1380,420 1300,400 1140,360 1130,280 1000,230 860,215" fill="#e0634f" stroke="#e0634f" stroke-width="1.5"/>
<polygon transform="translate(830,1123) scale(0.25)" points="850,345 900,318 960,320 985,345 960,380 910,390 860,375" fill="#e0634f" stroke="#e0634f" stroke-width="1.5"/>
<polygon transform="translate(830,1123) scale(0.25)" points="1900,330 2000,315 2000,345 1900,355" fill="#e0634f" stroke="#e0634f" stroke-width="1.5"/>
<polygon transform="translate(830,1123) scale(0.25)" points="390,445 420,440 450,455 400,458" fill="#e0634f" stroke="#e0634f" stroke-width="1.5"/>
</g></g>
<rect x="845.0" y="1133.3" width="474.0" height="105.6" fill="none" stroke="#000" stroke-width="2.5"/>
<line x1="155.25" y1="59.3" x2="164.25" y2="59.3" stroke="#000" stroke-width="2"/>
<text x="146.8" y="74.89999999999999" text-anchor="end" style="font-family:'Liberation Sans', Arial, sans-serif;font-size:40px;letter-spacing:5.3px" fill="#000" >3.9</text>
<line x1="155.25" y1="112.1" x2="164.25" y2="112.1" stroke="#000" stroke-width="2"/>
<text x="146.8" y="127.69999999999999" text-anchor="end" style="font-family:'Liberation Sans', Arial, sans-serif;font-size:40px;letter-spacing:5.3px" fill="#000" >2.0</text>
<line x1="155.25" y1="164.89999999999998" x2="164.25" y2="164.89999999999998" stroke="#000" stroke-width="2"/>
<text x="146.8" y="180.49999999999997" text-anchor="end" style="font-family:'Liberation Sans', Arial, sans-serif;font-size:40px;letter-spacing:5.3px" fill="#000" >0.2</text>
<line x1="164.25" y1="164.89999999999998" x2="164.25" y2="173.89999999999998" stroke="#000" stroke-width="2"/>
<text x="163.85" y="212.89999999999998" text-anchor="middle" style="font-family:'Liberation Sans', Arial, sans-serif;font-size:40px;letter-spacing:5.3px" fill="#000" >20.0</text>
<line x1="412.25" y1="164.89999999999998" x2="412.25" y2="173.89999999999998" stroke="#000" stroke-width="2"/>
<text x="411.85" y="212.89999999999998" text-anchor="middle" style="font-family:'Liberation Sans', Arial, sans-serif;font-size:40px;letter-spacing:5.3px" fill="#000" >40.0</text>
<line x1="845.0" y1="164.89999999999998" x2="845.0" y2="173.89999999999998" stroke="#000" stroke-width="2"/>
<text x="844.6" y="212.89999999999998" text-anchor="middle" style="font-family:'Liberation Sans', Arial, sans-serif;font-size:40px;letter-spacing:5.3px" fill="#000" >20.0</text>
<line x1="1093.75" y1="164.89999999999998" x2="1093.75" y2="173.89999999999998" stroke="#000" stroke-width="2"/>
<text x="1093.35" y="212.89999999999998" text-anchor="middle" style="font-family:'Liberation Sans', Arial, sans-serif;font-size:40px;letter-spacing:5.3px" fill="#000" >40.0</text>
<line x1="836.0" y1="95.6" x2="845.0" y2="95.6" stroke="#000" stroke-width="2"/>
<line x1="836.0" y1="164.5" x2="845.0" y2="164.5" stroke="#000" stroke-width="2"/>
<rect x="666.3" y="59.3" width="7.100000000000023" height="105.6" fill="url(#gb0)" stroke="#000" stroke-width="2"/>
<line x1="673.4" y1="67.2" x2="681.4" y2="67.2" stroke="#000" stroke-width="2"/>
<text x="690.9" y="81.5" text-anchor="start" style="font-family:'Liberation Sans', Arial, sans-serif;font-size:40px;letter-spacing:5.3px" fill="#000" >9.2</text>
<line x1="673.4" y1="111.8" x2="681.4" y2="111.8" stroke="#000" stroke-width="2"/>
<text x="690.9" y="126.1" text-anchor="start" style="font-family:'Liberation Sans', Arial, sans-serif;font-size:40px;letter-spacing:5.3px" fill="#000" >6.9</text>
<line x1="673.4" y1="156.89999999999998" x2="681.4" y2="156.89999999999998" stroke="#000" stroke-width="2"/>
<text x="690.9" y="171.2" text-anchor="start" style="font-family:'Liberation Sans', Arial, sans-serif;font-size:40px;letter-spacing:5.3px" fill="#000" >4.6</text>
<rect x="1348.2" y="59.3" width="6.399999999999864" height="105.6" fill="url(#gc)" stroke="#000" stroke-width="2"/>
<line x1="1354.6" y1="65.0" x2="1362.6" y2="65.0" stroke="#000" stroke-width="2"/>
<text x="1372.1" y="79.3" text-anchor="start" style="font-family:'Liberation Sans', Arial, sans-serif;font-size:40px;letter-spacing:5.3px" fill="#000" >381</text>
<line x1="1354.6" y1="114.0" x2="1362.6" y2="114.0" stroke="#000" stroke-width="2"/>
<text x="1372.1" y="128.3" text-anchor="start" style="font-family:'Liberation Sans', Arial, sans-serif;font-size:40px;letter-spacing:5.3px" fill="#000" >218</text>
<line x1="1354.6" y1="163.0" x2="1362.6" y2="163.0" stroke="#000" stroke-width="2"/>
<text x="1372.1" y="177.3" text-anchor="start" style="font-family:'Liberation Sans', Arial, sans-serif;font-size:40px;letter-spacing:5.3px" fill="#000" >55</text>
<line x1="155.25" y1="238.3" x2="164.25" y2="238.3" stroke="#000" stroke-width="2"/>
<text x="146.8" y="253.9" text-anchor="end" style="font-family:'Liberation Sans', Arial, sans-serif;font-size:40px;letter-spacing:5.3px" fill="#000" >5.0</text>
<line x1="155.25" y1="291.1" x2="164.25" y2="291.1" stroke="#000" stroke-width="2"/>
<text x="146.8" y="306.70000000000005" text-anchor="end" style="font-family:'Liberation Sans', Arial, sans-serif;font-size:40px;letter-spacing:5.3px" fill="#000" >2.6</text>
<line x1="155.25" y1="343.9" x2="164.25" y2="343.9" stroke="#000" stroke-width="2"/>
<text x="146.8" y="359.5" text-anchor="end" style="font-family:'Liberation Sans', Arial, sans-serif;font-size:40px;letter-spacing:5.3px" fill="#000" >0.2</text>
<line x1="164.25" y1="343.9" x2="164.25" y2="352.9" stroke="#000" stroke-width="2"/>
<text x="163.85" y="391.9" text-anchor="middle" style="font-family:'Liberation Sans', Arial, sans-serif;font-size:40px;letter-spacing:5.3px" fill="#000" >1.0</text>
<line x1="412.0" y1="343.9" x2="412.0" y2="352.9" stroke="#000" stroke-width="2"/>
<text x="411.6" y="391.9" text-anchor="middle" style="font-family:'Liberation Sans', Arial, sans-serif;font-size:40px;letter-spacing:5.3px" fill="#000" >2.0</text>
<line x1="845.0" y1="343.9" x2="845.0" y2="352.9" stroke="#000" stroke-width="2"/>
<text x="844.6" y="391.9" text-anchor="middle" style="font-family:'Liberation Sans', Arial, sans-serif;font-size:40px;letter-spacing:5.3px" fill="#000" >1.0</text>
<line x1="1092.5" y1="343.9" x2="1092.5" y2="352.9" stroke="#000" stroke-width="2"/>
<text x="1092.1" y="391.9" text-anchor="middle" style="font-family:'Liberation Sans', Arial, sans-serif;font-size:40px;letter-spacing:5.3px" fill="#000" >2.0</text>
<line x1="836.0" y1="274.3" x2="845.0" y2="274.3" stroke="#000" stroke-width="2"/>
<line x1="836.0" y1="343.5" x2="845.0" y2="343.5" stroke="#000" stroke-width="2"/>
<rect x="666.3" y="238.3" width="7.100000000000023" height="105.6" fill="url(#gb1)" stroke="#000" stroke-width="2"/>
<line x1="673.4" y1="247.0" x2="681.4" y2="247.0" stroke="#000" stroke-width="2"/>
<text x="690.9" y="261.3" text-anchor="start" style="font-family:'Liberation Sans', Arial, sans-serif;font-size:40px;letter-spacing:5.3px" fill="#000" >13.1</text>
<line x1="673.4" y1="290.0" x2="681.4" y2="290.0" stroke="#000" stroke-width="2"/>
<text x="690.9" y="304.3" text-anchor="start" style="font-family:'Liberation Sans', Arial, sans-serif;font-size:40px;letter-spacing:5.3px" fill="#000" >5.1</text>
<line x1="673.4" y1="332.9" x2="681.4" y2="332.9" stroke="#000" stroke-width="2"/>
<text x="690.9" y="347.2" text-anchor="start" style="font-family:'Liberation Sans', Arial, sans-serif;font-size:40px;letter-spacing:5.3px" fill="#000" >−3.0</text>
<rect x="1348.2" y="238.3" width="6.399999999999864" height="105.6" fill="url(#gc)" stroke="#000" stroke-width="2"/>
<line x1="1354.6" y1="244.5" x2="1362.6" y2="244.5" stroke="#000" stroke-width="2"/>
<text x="1372.1" y="258.8" text-anchor="start" style="font-family:'Liberation Sans', Arial, sans-serif;font-size:40px;letter-spacing:5.3px" fill="#000" >382</text>
<line x1="1354.6" y1="289.8" x2="1362.6" y2="289.8" stroke="#000" stroke-width="2"/>
<text x="1372.1" y="304.1" text-anchor="start" style="font-family:'Liberation Sans', Arial, sans-serif;font-size:40px;letter-spacing:5.3px" fill="#000" >245</text>
<line x1="1354.6" y1="334.20000000000005" x2="1362.6" y2="334.20000000000005" stroke="#000" stroke-width="2"/>
<text x="1372.1" y="348.50000000000006" text-anchor="start" style="font-family:'Liberation Sans', Arial, sans-serif;font-size:40px;letter-spacing:5.3px" fill="#000" >108</text>
<line x1="155.25" y1="417.3" x2="164.25" y2="417.3" stroke="#000" stroke-width="2"/>
<text x="146.8" y="432.90000000000003" text-anchor="end" style="font-family:'Liberation Sans', Arial, sans-serif;font-size:40px;letter-spacing:5.3px" fill="#000" >10.0</text>
<line x1="155.25" y1="470.1" x2="164.25" y2="470.1" stroke="#000" stroke-width="2"/>
<text x="146.8" y="485.70000000000005" text-anchor="end" style="font-family:'Liberation Sans', Arial, sans-serif;font-size:40px;letter-spacing:5.3px" fill="#000" >5.3</text>
<line x1="155.25" y1="522.9" x2="164.25" y2="522.9" stroke="#000" stroke-width="2"/>
<text x="146.8" y="538.5" text-anchor="end" style="font-family:'Liberation Sans', Arial, sans-serif;font-size:40px;letter-spacing:5.3px" fill="#000" >0.6</text>
<line x1="164.25" y1="522.9" x2="164.25" y2="531.9" stroke="#000" stroke-width="2"/>
<text x="163.85" y="570.9" text-anchor="middle" style="font-family:'Liberation Sans', Arial, sans-serif;font-size:40px;letter-spacing:5.3px" fill="#000" >5.0</text>
<line x1="386.25" y1="522.9" x2="386.25" y2="531.9" stroke="#000" stroke-width="2"/>
<text x="385.85" y="570.9" text-anchor="middle" style="font-family:'Liberation Sans', Arial, sans-serif;font-size:40px;letter-spacing:5.3px" fill="#000" >9.0</text>
<line x1="608.75" y1="522.9" x2="608.75" y2="531.9" stroke="#000" stroke-width="2"/>
<text x="608.35" y="570.9" text-anchor="middle" style="font-family:'Liberation Sans', Arial, sans-serif;font-size:40px;letter-spacing:5.3px" fill="#000" >13.0</text>
<line x1="845.0" y1="522.9" x2="845.0" y2="531.9" stroke="#000" stroke-width="2"/>
<text x="844.6" y="570.9" text-anchor="middle" style="font-family:'Liberation Sans', Arial, sans-serif;font-size:40px;letter-spacing:5.3px" fill="#000" >5.0</text>
<line x1="1067.5" y1="522.9" x2="1067.5" y2="531.9" stroke="#000" stroke-width="2"/>
<text x="1067.1" y="570.9" text-anchor="middle" style="font-family:'Liberation Sans', Arial, sans-serif;font-size:40px;letter-spacing:5.3px" fill="#000" >9.0</text>
<line x1="1290.0" y1="522.9" x2="1290.0" y2="531.9" stroke="#000" stroke-width="2"/>
<text x="1289.6" y="570.9" text-anchor="middle" style="font-family:'Liberation Sans', Arial, sans-serif;font-size:40px;letter-spacing:5.3px" fill="#000" >13.0</text>
<line x1="836.0" y1="460.0" x2="845.0" y2="460.0" stroke="#000" stroke-width="2"/>
<line x1="836.0" y1="522.5" x2="845.0" y2="522.5" stroke="#000" stroke-width="2"/>
<rect x="666.3" y="417.3" width="7.100000000000023" height="105.6" fill="url(#gb2)" stroke="#000" stroke-width="2"/>
<line x1="673.4" y1="427.40000000000003" x2="681.4" y2="427.40000000000003" stroke="#000" stroke-width="2"/>
<text x="690.9" y="441.70000000000005" text-anchor="start" style="font-family:'Liberation Sans', Arial, sans-serif;font-size:40px;letter-spacing:5.3px" fill="#000" >6.1</text>
<line x1="673.4" y1="470.3" x2="681.4" y2="470.3" stroke="#000" stroke-width="2"/>
<text x="690.9" y="484.6" text-anchor="start" style="font-family:'Liberation Sans', Arial, sans-serif;font-size:40px;letter-spacing:5.3px" fill="#000" >0.5</text>
<line x1="673.4" y1="513.8" x2="681.4" y2="513.8" stroke="#000" stroke-width="2"/>
<text x="690.9" y="528.0999999999999" text-anchor="start" style="font-family:'Liberation Sans', Arial, sans-serif;font-size:40px;letter-spacing:5.3px" fill="#000" >−5.0</text>
<rect x="1348.2" y="417.3" width="6.399999999999864" height="105.6" fill="url(#gc)" stroke="#000" stroke-width="2"/>
<line x1="1354.6" y1="424.2" x2="1362.6" y2="424.2" stroke="#000" stroke-width="2"/>
<text x="1372.1" y="438.5" text-anchor="start" style="font-family:'Liberation Sans', Arial, sans-serif;font-size:40px;letter-spacing:5.3px" fill="#000" >425</text>
<line x1="1354.6" y1="468.8" x2="1362.6" y2="468.8" stroke="#000" stroke-width="2"/>
<text x="1372.1" y="483.1" text-anchor="start" style="font-family:'Liberation Sans', Arial, sans-serif;font-size:40px;letter-spacing:5.3px" fill="#000" >248</text>
<line x1="1354.6" y1="516.4" x2="1362.6" y2="516.4" stroke="#000" stroke-width="2"/>
<text x="1372.1" y="530.6999999999999" text-anchor="start" style="font-family:'Liberation Sans', Arial, sans-serif;font-size:40px;letter-spacing:5.3px" fill="#000" >71</text>
<line x1="155.25" y1="596.3" x2="164.25" y2="596.3" stroke="#000" stroke-width="2"/>
<text x="146.8" y="611.9" text-anchor="end" style="font-family:'Liberation Sans', Arial, sans-serif;font-size:40px;letter-spacing:5.3px" fill="#000" >10.9</text>
<line x1="155.25" y1="649.0999999999999" x2="164.25" y2="649.0999999999999" stroke="#000" stroke-width="2"/>
<text x="146.8" y="664.6999999999999" text-anchor="end" style="font-family:'Liberation Sans', Arial, sans-serif;font-size:40px;letter-spacing:5.3px" fill="#000" >6.4</text>
<line x1="155.25" y1="701.9" x2="164.25" y2="701.9" stroke="#000" stroke-width="2"/>
<text x="146.8" y="717.5" text-anchor="end" style="font-family:'Liberation Sans', Arial, sans-serif;font-size:40px;letter-spacing:5.3px" fill="#000" >1.8</text>
<line x1="164.25" y1="701.9" x2="164.25" y2="710.9" stroke="#000" stroke-width="2"/>
<text x="163.85" y="749.9" text-anchor="middle" style="font-family:'Liberation Sans', Arial, sans-serif;font-size:40px;letter-spacing:5.3px" fill="#000" >1.0</text>
<line x1="408.25" y1="701.9" x2="408.25" y2="710.9" stroke="#000" stroke-width="2"/>
<text x="407.85" y="749.9" text-anchor="middle" style="font-family:'Liberation Sans', Arial, sans-serif;font-size:40px;letter-spacing:5.3px" fill="#000" >2.0</text>
<line x1="845.0" y1="701.9" x2="845.0" y2="710.9" stroke="#000" stroke-width="2"/>
<text x="844.6" y="749.9" text-anchor="middle" style="font-family:'Liberation Sans', Arial, sans-serif;font-size:40px;letter-spacing:5.3px" fill="#000" >1.0</text>
<line x1="1090.0" y1="701.9" x2="1090.0" y2="710.9" stroke="#000" stroke-width="2"/>
<text x="1089.6" y="749.9" text-anchor="middle" style="font-family:'Liberation Sans', Arial, sans-serif;font-size:40px;letter-spacing:5.3px" fill="#000" >2.0</text>
<line x1="836.0" y1="633.0" x2="845.0" y2="633.0" stroke="#000" stroke-width="2"/>
<line x1="836.0" y1="701.5" x2="845.0" y2="701.5" stroke="#000" stroke-width="2"/>
<rect x="666.3" y="596.3" width="7.100000000000023" height="105.6" fill="url(#gb3)" stroke="#000" stroke-width="2"/>
<line x1="673.4" y1="605.3" x2="681.4" y2="605.3" stroke="#000" stroke-width="2"/>
<text x="690.9" y="619.5999999999999" text-anchor="start" style="font-family:'Liberation Sans', Arial, sans-serif;font-size:40px;letter-spacing:5.3px" fill="#000" >7.1</text>
<line x1="673.4" y1="650.0" x2="681.4" y2="650.0" stroke="#000" stroke-width="2"/>
<text x="690.9" y="664.3" text-anchor="start" style="font-family:'Liberation Sans', Arial, sans-serif;font-size:40px;letter-spacing:5.3px" fill="#000" >5.2</text>
<line x1="673.4" y1="694.5999999999999" x2="681.4" y2="694.5999999999999" stroke="#000" stroke-width="2"/>
<text x="690.9" y="708.8999999999999" text-anchor="start" style="font-family:'Liberation Sans', Arial, sans-serif;font-size:40px;letter-spacing:5.3px" fill="#000" >3.3</text>
<rect x="1348.2" y="596.3" width="6.399999999999864" height="105.6" fill="url(#gc)" stroke="#000" stroke-width="2"/>
<line x1="1354.6" y1="605.1999999999999" x2="1362.6" y2="605.1999999999999" stroke="#000" stroke-width="2"/>
<text x="1372.1" y="619.4999999999999" text-anchor="start" style="font-family:'Liberation Sans', Arial, sans-serif;font-size:40px;letter-spacing:5.3px" fill="#000" >388</text>
<line x1="1354.6" y1="651.4" x2="1362.6" y2="651.4" stroke="#000" stroke-width="2"/>
<text x="1372.1" y="665.6999999999999" text-anchor="start" style="font-family:'Liberation Sans', Arial, sans-serif;font-size:40px;letter-spacing:5.3px" fill="#000" >326</text>
<line x1="1354.6" y1="698.6999999999999" x2="1362.6" y2="698.6999999999999" stroke="#000" stroke-width="2"/>
<text x="1372.1" y="712.9999999999999" text-anchor="start" style="font-family:'Liberation Sans', Arial, sans-serif;font-size:40px;letter-spacing:5.3px" fill="#000" >264</text>
<line x1="155.25" y1="775.3" x2="164.25" y2="775.3" stroke="#000" stroke-width="2"/>
<text x="146.8" y="790.9" text-anchor="end" style="font-family:'Liberation Sans', Arial, sans-serif;font-size:40px;letter-spacing:5.3px" fill="#000" >0.7</text>
<line x1="155.25" y1="828.0999999999999" x2="164.25" y2="828.0999999999999" stroke="#000" stroke-width="2"/>
<text x="146.8" y="843.6999999999999" text-anchor="end" style="font-family:'Liberation Sans', Arial, sans-serif;font-size:40px;letter-spacing:5.3px" fill="#000" >0.4</text>
<line x1="155.25" y1="880.9" x2="164.25" y2="880.9" stroke="#000" stroke-width="2"/>
<text x="146.8" y="896.5" text-anchor="end" style="font-family:'Liberation Sans', Arial, sans-serif;font-size:40px;letter-spacing:5.3px" fill="#000" >0.1</text>
<line x1="164.25" y1="880.9" x2="164.25" y2="889.9" stroke="#000" stroke-width="2"/>
<text x="163.85" y="928.9" text-anchor="middle" style="font-family:'Liberation Sans', Arial, sans-serif;font-size:40px;letter-spacing:5.3px" fill="#000" >3.0</text>
<line x1="393.75" y1="880.9" x2="393.75" y2="889.9" stroke="#000" stroke-width="2"/>
<text x="393.35" y="928.9" text-anchor="middle" style="font-family:'Liberation Sans', Arial, sans-serif;font-size:40px;letter-spacing:5.3px" fill="#000" >5.0</text>
<line x1="622.5" y1="880.9" x2="622.5" y2="889.9" stroke="#000" stroke-width="2"/>
<text x="622.1" y="928.9" text-anchor="middle" style="font-family:'Liberation Sans', Arial, sans-serif;font-size:40px;letter-spacing:5.3px" fill="#000" >7.0</text>
<line x1="845.0" y1="880.9" x2="845.0" y2="889.9" stroke="#000" stroke-width="2"/>
<text x="844.6" y="928.9" text-anchor="middle" style="font-family:'Liberation Sans', Arial, sans-serif;font-size:40px;letter-spacing:5.3px" fill="#000" >3.0</text>
<line x1="1075.0" y1="880.9" x2="1075.0" y2="889.9" stroke="#000" stroke-width="2"/>
<text x="1074.6" y="928.9" text-anchor="middle" style="font-family:'Liberation Sans', Arial, sans-serif;font-size:40px;letter-spacing:5.3px" fill="#000" >5.0</text>
<line x1="1303.75" y1="880.9" x2="1303.75" y2="889.9" stroke="#000" stroke-width="2"/>
<text x="1303.35" y="928.9" text-anchor="middle" style="font-family:'Liberation Sans', Arial, sans-serif;font-size:40px;letter-spacing:5.3px" fill="#000" >7.0</text>
<line x1="836.0" y1="778.8" x2="845.0" y2="778.8" stroke="#000" stroke-width="2"/>
<line x1="836.0" y1="880.5" x2="845.0" y2="880.5" stroke="#000" stroke-width="2"/>
<rect x="666.3" y="775.3" width="7.100000000000023" height="105.6" fill="url(#gb4)" stroke="#000" stroke-width="2"/>
<line x1="673.4" y1="781.6999999999999" x2="681.4" y2="781.6999999999999" stroke="#000" stroke-width="2"/>
<text x="690.9" y="795.9999999999999" text-anchor="start" style="font-family:'Liberation Sans', Arial, sans-serif;font-size:40px;letter-spacing:5.3px" fill="#000" >19.0</text>
<line x1="673.4" y1="824.8" x2="681.4" y2="824.8" stroke="#000" stroke-width="2"/>
<text x="690.9" y="839.0999999999999" text-anchor="start" style="font-family:'Liberation Sans', Arial, sans-serif;font-size:40px;letter-spacing:5.3px" fill="#000" >12.5</text>
<line x1="673.4" y1="868.0999999999999" x2="681.4" y2="868.0999999999999" stroke="#000" stroke-width="2"/>
<text x="690.9" y="882.3999999999999" text-anchor="start" style="font-family:'Liberation Sans', Arial, sans-serif;font-size:40px;letter-spacing:5.3px" fill="#000" >5.9</text>
<rect x="1348.2" y="775.3" width="6.399999999999864" height="105.6" fill="url(#gc)" stroke="#000" stroke-width="2"/>
<line x1="1354.6" y1="784.1999999999999" x2="1362.6" y2="784.1999999999999" stroke="#000" stroke-width="2"/>
<text x="1372.1" y="798.4999999999999" text-anchor="start" style="font-family:'Liberation Sans', Arial, sans-serif;font-size:40px;letter-spacing:5.3px" fill="#000" >206</text>
<line x1="1354.6" y1="827.3" x2="1362.6" y2="827.3" stroke="#000" stroke-width="2"/>
<text x="1372.1" y="841.5999999999999" text-anchor="start" style="font-family:'Liberation Sans', Arial, sans-serif;font-size:40px;letter-spacing:5.3px" fill="#000" >114</text>
<line x1="1354.6" y1="870.0999999999999" x2="1362.6" y2="870.0999999999999" stroke="#000" stroke-width="2"/>
<text x="1372.1" y="884.3999999999999" text-anchor="start" style="font-family:'Liberation Sans', Arial, sans-serif;font-size:40px;letter-spacing:5.3px" fill="#000" >21</text>
<line x1="155.25" y1="954.3" x2="164.25" y2="954.3" stroke="#000" stroke-width="2"/>
<text x="146.8" y="969.9" text-anchor="end" style="font-family:'Liberation Sans', Arial, sans-serif;font-size:40px;letter-spacing:5.3px" fill="#000" >0.9</text>
<line x1="155.25" y1="1007.0999999999999" x2="164.25" y2="1007.0999999999999" stroke="#000" stroke-width="2"/>
<text x="146.8" y="1022.6999999999999" text-anchor="end" style="font-family:'Liberation Sans', Arial, sans-serif;font-size:40px;letter-spacing:5.3px" fill="#000" >0.3</text>
<line x1="155.25" y1="1059.8999999999999" x2="164.25" y2="1059.8999999999999" stroke="#000" stroke-width="2"/>
<text x="146.8" y="1075.4999999999998" text-anchor="end" style="font-family:'Liberation Sans', Arial, sans-serif;font-size:40px;letter-spacing:5.3px" fill="#000" >-0.3</text>
<line x1="164.25" y1="1059.8999999999999" x2="164.25" y2="1068.8999999999999" stroke="#000" stroke-width="2"/>
<text x="163.85" y="1107.8999999999999" text-anchor="middle" style="font-family:'Liberation Sans', Arial, sans-serif;font-size:40px;letter-spacing:5.3px" fill="#000" >3.0</text>
<line x1="327.0" y1="1059.8999999999999" x2="327.0" y2="1068.8999999999999" stroke="#000" stroke-width="2"/>
<text x="326.6" y="1107.8999999999999" text-anchor="middle" style="font-family:'Liberation Sans', Arial, sans-serif;font-size:40px;letter-spacing:5.3px" fill="#000" >6.0</text>
<line x1="489.25" y1="1059.8999999999999" x2="489.25" y2="1068.8999999999999" stroke="#000" stroke-width="2"/>
<text x="488.85" y="1107.8999999999999" text-anchor="middle" style="font-family:'Liberation Sans', Arial, sans-serif;font-size:40px;letter-spacing:5.3px" fill="#000" >9.0</text>
<line x1="845.0" y1="1059.8999999999999" x2="845.0" y2="1068.8999999999999" stroke="#000" stroke-width="2"/>
<text x="844.6" y="1107.8999999999999" text-anchor="middle" style="font-family:'Liberation Sans', Arial, sans-serif;font-size:40px;letter-spacing:5.3px" fill="#000" >3.0</text>
<line x1="1008.0" y1="1059.8999999999999" x2="1008.0" y2="1068.8999999999999" stroke="#000" stroke-width="2"/>
<text x="1007.6" y="1107.8999999999999" text-anchor="middle" style="font-family:'Liberation Sans', Arial, sans-serif;font-size:40px;letter-spacing:5.3px" fill="#000" >6.0</text>
<line x1="1170.0" y1="1059.8999999999999" x2="1170.0" y2="1068.8999999999999" stroke="#000" stroke-width="2"/>
<text x="1169.6" y="1107.8999999999999" text-anchor="middle" style="font-family:'Liberation Sans', Arial, sans-serif;font-size:40px;letter-spacing:5.3px" fill="#000" >9.0</text>
<line x1="836.0" y1="969.0" x2="845.0" y2="969.0" stroke="#000" stroke-width="2"/>
<line x1="836.0" y1="1059.5" x2="845.0" y2="1059.5" stroke="#000" stroke-width="2"/>
<rect x="666.3" y="954.3" width="7.100000000000023" height="105.6" fill="url(#gb5)" stroke="#000" stroke-width="2"/>
<line x1="673.4" y1="954.6999999999999" x2="681.4" y2="954.6999999999999" stroke="#000" stroke-width="2"/>
<text x="690.9" y="968.9999999999999" text-anchor="start" style="font-family:'Liberation Sans', Arial, sans-serif;font-size:40px;letter-spacing:5.3px" fill="#000" >10.4</text>
<line x1="673.4" y1="1001.1999999999999" x2="681.4" y2="1001.1999999999999" stroke="#000" stroke-width="2"/>
<text x="690.9" y="1015.4999999999999" text-anchor="start" style="font-family:'Liberation Sans', Arial, sans-serif;font-size:40px;letter-spacing:5.3px" fill="#000" >6.4</text>
<line x1="673.4" y1="1049.6" x2="681.4" y2="1049.6" stroke="#000" stroke-width="2"/>
<text x="690.9" y="1063.8999999999999" text-anchor="start" style="font-family:'Liberation Sans', Arial, sans-serif;font-size:40px;letter-spacing:5.3px" fill="#000" >2.3</text>
<rect x="1348.2" y="954.3" width="6.399999999999864" height="105.6" fill="url(#gc)" stroke="#000" stroke-width="2"/>
<line x1="1354.6" y1="958.0" x2="1362.6" y2="958.0" stroke="#000" stroke-width="2"/>
<text x="1372.1" y="972.3" text-anchor="start" style="font-family:'Liberation Sans', Arial, sans-serif;font-size:40px;letter-spacing:5.3px" fill="#000" >292</text>
<line x1="1354.6" y1="1005.3" x2="1362.6" y2="1005.3" stroke="#000" stroke-width="2"/>
<text x="1372.1" y="1019.5999999999999" text-anchor="start" style="font-family:'Liberation Sans', Arial, sans-serif;font-size:40px;letter-spacing:5.3px" fill="#000" >184</text>
<line x1="1354.6" y1="1052.1" x2="1362.6" y2="1052.1" stroke="#000" stroke-width="2"/>
<text x="1372.1" y="1066.3999999999999" text-anchor="start" style="font-family:'Liberation Sans', Arial, sans-serif;font-size:40px;letter-spacing:5.3px" fill="#000" >77</text>
<line x1="155.25" y1="1133.3" x2="164.25" y2="1133.3" stroke="#000" stroke-width="2"/>
<text x="146.8" y="1148.8999999999999" text-anchor="end" style="font-family:'Liberation Sans', Arial, sans-serif;font-size:40px;letter-spacing:5.3px" fill="#000" >3.3</text>
<line x1="155.25" y1="1186.1" x2="164.25" y2="1186.1" stroke="#000" stroke-width="2"/>
<text x="146.8" y="1201.6999999999998" text-anchor="end" style="font-family:'Liberation Sans', Arial, sans-serif;font-size:40px;letter-spacing:5.3px" fill="#000" >1.6</text>
<line x1="155.25" y1="1238.8999999999999" x2="164.25" y2="1238.8999999999999" stroke="#000" stroke-width="2"/>
<text x="146.8" y="1254.4999999999998" text-anchor="end" style="font-family:'Liberation Sans', Arial, sans-serif;font-size:40px;letter-spacing:5.3px" fill="#000" >0.0</text>
<line x1="164.25" y1="1238.8999999999999" x2="164.25" y2="1247.8999999999999" stroke="#000" stroke-width="2"/>
<text x="163.85" y="1286.8999999999999" text-anchor="middle" style="font-family:'Liberation Sans', Arial, sans-serif;font-size:40px;letter-spacing:5.3px" fill="#000" >5.0</text>
<line x1="415.5" y1="1238.8999999999999" x2="415.5" y2="1247.8999999999999" stroke="#000" stroke-width="2"/>
<text x="415.1" y="1286.8999999999999" text-anchor="middle" style="font-family:'Liberation Sans', Arial, sans-serif;font-size:40px;letter-spacing:5.3px" fill="#000" >10.0</text>
<line x1="845.0" y1="1238.8999999999999" x2="845.0" y2="1247.8999999999999" stroke="#000" stroke-width="2"/>
<text x="844.6" y="1286.8999999999999" text-anchor="middle" style="font-family:'Liberation Sans', Arial, sans-serif;font-size:40px;letter-spacing:5.3px" fill="#000" >5.0</text>
<line x1="1097.0" y1="1238.8999999999999" x2="1097.0" y2="1247.8999999999999" stroke="#000" stroke-width="2"/>
<text x="1096.6" y="1286.8999999999999" text-anchor="middle" style="font-family:'Liberation Sans', Arial, sans-serif;font-size:40px;letter-spacing:5.3px" fill="#000" >10.0</text>
<line x1="836.0" y1="1158.5" x2="845.0" y2="1158.5" stroke="#000" stroke-width="2"/>
<line x1="836.0" y1="1238.5" x2="845.0" y2="1238.5" stroke="#000" stroke-width="2"/>
<rect x="666.3" y="1133.3" width="7.100000000000023" height="105.6" fill="url(#gb6)" stroke="#000" stroke-width="2"/>
<line x1="673.4" y1="1135.7" x2="681.4" y2="1135.7" stroke="#000" stroke-width="2"/>
<text x="690.9" y="1150.0" text-anchor="start" style="font-family:'Liberation Sans', Arial, sans-serif;font-size:40px;letter-spacing:5.3px" fill="#000" >13.2</text>
<line x1="673.4" y1="1181.3999999999999" x2="681.4" y2="1181.3999999999999" stroke="#000" stroke-width="2"/>
<text x="690.9" y="1195.6999999999998" text-anchor="start" style="font-family:'Liberation Sans', Arial, sans-serif;font-size:40px;letter-spacing:5.3px" fill="#000" >8.0</text>
<line x1="673.4" y1="1226.3999999999999" x2="681.4" y2="1226.3999999999999" stroke="#000" stroke-width="2"/>
<text x="690.9" y="1240.6999999999998" text-anchor="start" style="font-family:'Liberation Sans', Arial, sans-serif;font-size:40px;letter-spacing:5.3px" fill="#000" >2.9</text>
<rect x="1348.2" y="1133.3" width="6.399999999999864" height="105.6" fill="url(#gc)" stroke="#000" stroke-width="2"/>
<line x1="1354.6" y1="1142.5" x2="1362.6" y2="1142.5" stroke="#000" stroke-width="2"/>
<text x="1372.1" y="1156.8" text-anchor="start" style="font-family:'Liberation Sans', Arial, sans-serif;font-size:40px;letter-spacing:5.3px" fill="#000" >372</text>
<line x1="1354.6" y1="1187.2" x2="1362.6" y2="1187.2" stroke="#000" stroke-width="2"/>
<text x="1372.1" y="1201.5" text-anchor="start" style="font-family:'Liberation Sans', Arial, sans-serif;font-size:40px;letter-spacing:5.3px" fill="#000" >236</text>
<line x1="1354.6" y1="1231.8" x2="1362.6" y2="1231.8" stroke="#000" stroke-width="2"/>
<text x="1372.1" y="1246.1" text-anchor="start" style="font-family:'Liberation Sans', Arial, sans-serif;font-size:40px;letter-spacing:5.3px" fill="#000" >100</text>
<text x="177.2" y="42.8" style="font-family:'Liberation Sans', Arial, sans-serif;font-size:48px" fill="#000">δ</text>
<text x="261.8" y="42.8" style="font-family:'Liberation Sans', Arial, sans-serif;font-size:48px" fill="#000">O</text>
<text x="315.5" y="42.8" style="font-family:'Liberation Sans', Arial, sans-serif;font-size:48px" fill="#000">(</text>
<text x="333.0" y="42.8" style="font-family:'Liberation Sans', Arial, sans-serif;font-size:48px" fill="#000">‰</text>
<text x="215.8" y="24.2" style="font-family:'Liberation Sans', Arial, sans-serif;font-size:33px" fill="#000">1</text>
<text x="238.4" y="24.2" style="font-family:'Liberation Sans', Arial, sans-serif;font-size:33px" fill="#000">8</text>
<text x="415.0" y="42.8" style="font-family:'Liberation Sans', Arial, sans-serif;font-size:48.5px;letter-spacing:0.3px" fill="#000">VSMOW)</text>
<text x="944.4" y="43.3" style="font-family:'Liberation Sans', Arial, sans-serif;font-size:48px" fill="#000">T</text>
<text x="973.6" y="43.3" style="font-family:'Liberation Sans', Arial, sans-serif;font-size:48px" fill="#000">e</text>
<text x="1003.4" y="43.3" style="font-family:'Liberation Sans', Arial, sans-serif;font-size:48px" fill="#000">m</text>
<text x="1050.6" y="43.3" style="font-family:'Liberation Sans', Arial, sans-serif;font-size:48px" fill="#000">p</text>
<text x="1080.6" y="43.3" style="font-family:'Liberation Sans', Arial, sans-serif;font-size:48px" fill="#000">.</text>
<text x="1111.0" y="43.3" style="font-family:'Liberation Sans', Arial, sans-serif;font-size:48px" fill="#000">(</text>
<text x="1139.1" y="43.3" style="font-family:'Liberation Sans', Arial, sans-serif;font-size:48px" fill="#000">°</text>
<text x="1165.6" y="43.3" style="font-family:'Liberation Sans', Arial, sans-serif;font-size:48px" fill="#000">C</text>
<text x="1202.7" y="43.3" style="font-family:'Liberation Sans', Arial, sans-serif;font-size:48px" fill="#000">)</text>
<text x="400" y="1335.7" text-anchor="middle" style="font-family:'Liberation Sans', Arial, sans-serif;font-size:40px;letter-spacing:2.75px" fill="#000">Horizontal (km)</text>
<text x="1081.5" y="1335.7" text-anchor="middle" style="font-family:'Liberation Sans', Arial, sans-serif;font-size:40px;letter-spacing:2.75px" fill="#000">Horizontal (km)</text>
<text x="0" y="0" transform="translate(29,646) rotate(-90)" text-anchor="middle" style="font-family:'Liberation Sans', Arial, sans-serif;font-size:37px;letter-spacing:4.85px" fill="#000">Vertical (km)</text>
<text x="1822.5" y="1295.2" text-anchor="middle" style="font-family:'Liberation Sans', Arial, sans-serif;font-size:40px;letter-spacing:2.4px" fill="#000">True Aspect Ratio</text>
<text x="1821.7" y="83.1" text-anchor="middle" style="font-family:'Liberation Sans', Arial, sans-serif;font-size:27px;letter-spacing:1.9px" fill="#000">Equilibrium</text>
<clipPath id="sc0"><rect x="1526.4" y="98.5" width="592.0" height="27.0"/></clipPath>
<g clip-path="url(#sc0)" fill="#1f77b4" stroke="#1b6aa6" stroke-width="0.6">
<circle cx="1553.43" cy="107.23" r="4.9"/>
<circle cx="1584.28" cy="112.05" r="4.9"/>
<circle cx="1592.91" cy="123.31" r="4.9"/>
<circle cx="1600.66" cy="100.35" r="4.9"/>
<circle cx="1600.95" cy="107.23" r="4.9"/>
<circle cx="1617.03" cy="104.01" r="4.9"/>
<circle cx="1637.65" cy="100.35" r="4.9"/>
<circle cx="1666.75" cy="101.82" r="4.9"/>
<circle cx="1674.5" cy="100.35" r="4.9"/>
<circle cx="1675.23" cy="119.65" r="4.9"/>
<circle cx="1703.3" cy="103.28" r="4.9"/>
<circle cx="1714.27" cy="104.74" r="4.9"/>
<circle cx="1722.02" cy="100.35" r="4.9"/>
<circle cx="1726.41" cy="104.01" r="4.9"/>
<circle cx="1728.6" cy="108.4" r="4.9"/>
<circle cx="1730.06" cy="115.71" r="4.9"/>
<circle cx="1730.5" cy="122.29" r="4.9"/>
<circle cx="1741.32" cy="107.23" r="4.9"/>
<circle cx="1761.79" cy="113.95" r="4.9"/>
<circle cx="1784.16" cy="106.2" r="4.9"/>
<circle cx="1792.94" cy="119.36" r="4.9"/>
<circle cx="1786.36" cy="123.31" r="4.9"/>
<circle cx="1819.26" cy="104.01" r="4.9"/>
<circle cx="1823.89" cy="100.35" r="4.9"/>
<circle cx="1823.89" cy="106.2" r="4.9"/>
<circle cx="1863.37" cy="106.2" r="4.9"/>
<circle cx="1851.67" cy="119.36" r="4.9"/>
<circle cx="1858.25" cy="123.02" r="4.9"/>
<circle cx="1882.67" cy="113.95" r="4.9"/>
<circle cx="1905.34" cy="106.93" r="4.9"/>
<circle cx="1913.09" cy="115.71" r="4.9"/>
<circle cx="1914.99" cy="122.72" r="4.9"/>
<circle cx="1916.01" cy="108.4" r="4.9"/>
<circle cx="1919.67" cy="105.47" r="4.9"/>
<circle cx="1924.05" cy="102.55" r="4.9"/>
<circle cx="1926.98" cy="100.35" r="4.9"/>
<circle cx="1931.8" cy="104.74" r="4.9"/>
<circle cx="1943.06" cy="102.55" r="4.9"/>
<circle cx="1948.91" cy="100.35" r="4.9"/>
<circle cx="1980.35" cy="101.08" r="4.9"/>
<circle cx="1988.39" cy="100.35" r="4.9"/>
<circle cx="1969.67" cy="119.65" r="4.9"/>
<circle cx="2026.7" cy="104.3" r="4.9"/>
<circle cx="2043.95" cy="100.35" r="4.9"/>
<circle cx="2043.95" cy="107.66" r="4.9"/>
<circle cx="2060.77" cy="112.05" r="4.9"/>
<circle cx="2051.99" cy="123.31" r="4.9"/>
<circle cx="2091.91" cy="107.37" r="4.9"/>
</g>
<rect x="1526.4" y="98.5" width="592.0" height="27.0" fill="none" stroke="#000" stroke-width="2"/>
<line x1="1518.4" y1="98.9" x2="1526.4" y2="98.9" stroke="#000" stroke-width="2"/>
<line x1="1518.4" y1="112" x2="1526.4" y2="112" stroke="#000" stroke-width="2"/>
<line x1="1518.4" y1="125.5" x2="1526.4" y2="125.5" stroke="#000" stroke-width="2"/>
<line x1="1552.4" y1="125.5" x2="1552.4" y2="133.5" stroke="#000" stroke-width="2"/>
<line x1="1720.1" y1="125.5" x2="1720.1" y2="133.5" stroke="#000" stroke-width="2"/>
<line x1="1889" y1="125.5" x2="1889" y2="133.5" stroke="#000" stroke-width="2"/>
<line x1="2056.8" y1="125.5" x2="2056.8" y2="133.5" stroke="#000" stroke-width="2"/>
<text x="1823.5" y="223" text-anchor="middle" style="font-family:'Liberation Sans', Arial, sans-serif;font-size:27px;letter-spacing:2.5px" fill="#000">Kinetic</text>
<clipPath id="sc1"><rect x="1769" y="238.1" width="107.40000000000009" height="105.4"/></clipPath>
<g clip-path="url(#sc1)" fill="#1f77b4" stroke="#1b6aa6" stroke-width="0.6">
<polygon points="1769.51,239.51 1872.04,239.51 1872.04,247.25 1869.14,254.02 1870.11,261.76 1867.21,266.59 1864.31,270.46 1859.47,268.53 1851.73,267.56 1846.89,271.43 1842.06,267.56 1835.29,266.59 1828.52,267.56 1824.65,263.69 1818.84,266.59 1813.04,263.69 1807.23,265.63 1803.37,263.69 1798.53,267.56 1793.69,270.46 1785.95,267.56 1782.08,265.63 1777.25,261.76 1771.44,255.95 1769.51,254.02"/>
<circle cx="1785.95" cy="267.56" r="4.9"/>
<circle cx="1793.69" cy="277.23" r="4.9"/>
<circle cx="1797.56" cy="268.53" r="4.9"/>
<circle cx="1802.4" cy="288.84" r="4.9"/>
<circle cx="1806.27" cy="279.17" r="4.9"/>
<circle cx="1807.23" cy="273.37" r="4.9"/>
<circle cx="1816.91" cy="268.53" r="4.9"/>
<circle cx="1817.87" cy="279.17" r="4.9"/>
<circle cx="1818.84" cy="292.71" r="4.9"/>
<circle cx="1822.71" cy="286.91" r="4.9"/>
<circle cx="1827.55" cy="281.1" r="4.9"/>
<circle cx="1829.48" cy="279.17" r="4.9"/>
<circle cx="1835.29" cy="275.3" r="4.9"/>
<circle cx="1827.55" cy="265.63" r="4.9"/>
<circle cx="1839.16" cy="265.63" r="4.9"/>
<circle cx="1847.86" cy="273.37" r="4.9"/>
<circle cx="1861.4" cy="273.37" r="4.9"/>
<circle cx="1864.31" cy="267.56" r="4.9"/>
<circle cx="1780.15" cy="282.07" r="4.9"/>
<circle cx="1777.25" cy="287.87" r="4.9"/>
<circle cx="1784.02" cy="292.71" r="4.9"/>
<circle cx="1774.35" cy="299.48" r="4.9"/>
<circle cx="1781.12" cy="308.19" r="4.9"/>
<circle cx="1786.92" cy="309.16" r="4.9"/>
<circle cx="1795.63" cy="301.42" r="4.9"/>
<circle cx="1798.53" cy="299.48" r="4.9"/>
<circle cx="1794.66" cy="306.25" r="4.9"/>
<circle cx="1800.46" cy="308.19" r="4.9"/>
<circle cx="1803.37" cy="315.93" r="4.9"/>
<circle cx="1809.17" cy="304.32" r="4.9"/>
<circle cx="1813.04" cy="302.38" r="4.9"/>
<circle cx="1811.1" cy="313.99" r="4.9"/>
<circle cx="1814.01" cy="319.8" r="4.9"/>
<circle cx="1826.58" cy="305.29" r="4.9"/>
<circle cx="1829.48" cy="302.38" r="4.9"/>
<circle cx="1826.58" cy="312.06" r="4.9"/>
<circle cx="1828.52" cy="315.93" r="4.9"/>
<circle cx="1832.38" cy="318.83" r="4.9"/>
<circle cx="1835.29" cy="288.84" r="4.9"/>
<circle cx="1835.29" cy="294.65" r="4.9"/>
<circle cx="1843.02" cy="301.42" r="4.9"/>
<circle cx="1841.09" cy="307.22" r="4.9"/>
<circle cx="1844.96" cy="312.06" r="4.9"/>
<circle cx="1848.83" cy="315.93" r="4.9"/>
<circle cx="1851.73" cy="284.01" r="4.9"/>
<circle cx="1851.73" cy="290.78" r="4.9"/>
<circle cx="1857.53" cy="299.48" r="4.9"/>
<circle cx="1854.63" cy="306.25" r="4.9"/>
<circle cx="1861.4" cy="307.22" r="4.9"/>
<circle cx="1861.4" cy="284.97" r="4.9"/>
<circle cx="1868.17" cy="283.04" r="4.9"/>
<circle cx="1869.14" cy="291.74" r="4.9"/>
<circle cx="1868.17" cy="299.48" r="4.9"/>
<circle cx="1870.11" cy="312.06" r="4.9"/>
<circle cx="1865.27" cy="314.96" r="4.9"/>
<circle cx="1871.08" cy="321.73" r="4.9"/>
<circle cx="1867.21" cy="328.5" r="4.9"/>
<circle cx="1859.47" cy="323.67" r="4.9"/>
<circle cx="1774.35" cy="316.89" r="4.9"/>
<circle cx="1779.18" cy="325.6" r="4.9"/>
<circle cx="1784.02" cy="324.63" r="4.9"/>
<circle cx="1791.76" cy="321.73" r="4.9"/>
<circle cx="1780.15" cy="337.21" r="4.9"/>
<circle cx="1794.66" cy="332.37" r="4.9"/>
<circle cx="1800.46" cy="327.53" r="4.9"/>
<circle cx="1802.4" cy="337.21" r="4.9"/>
<circle cx="1814.01" cy="330.44" r="4.9"/>
<circle cx="1824.65" cy="326.57" r="4.9"/>
<circle cx="1826.58" cy="338.17" r="4.9"/>
<circle cx="1843.02" cy="324.63" r="4.9"/>
<circle cx="1843.02" cy="331.4" r="4.9"/>
<circle cx="1860.44" cy="338.17" r="4.9"/>
<circle cx="1774.35" cy="256.92" r="4.9"/>
<circle cx="1780.15" cy="261.76" r="4.9"/>
<circle cx="1786.92" cy="265.63" r="4.9"/>
<circle cx="1795.63" cy="266.59" r="4.9"/>
<circle cx="1801.43" cy="263.69" r="4.9"/>
<circle cx="1809.17" cy="262.72" r="4.9"/>
<circle cx="1814.97" cy="264.66" r="4.9"/>
<circle cx="1822.71" cy="263.69" r="4.9"/>
<circle cx="1830.45" cy="265.63" r="4.9"/>
<circle cx="1836.25" cy="263.69" r="4.9"/>
<circle cx="1843.99" cy="266.59" r="4.9"/>
<circle cx="1850.76" cy="267.56" r="4.9"/>
<circle cx="1857.53" cy="266.59" r="4.9"/>
<circle cx="1866.24" cy="265.63" r="4.9"/>
<circle cx="1868.17" cy="258.86" r="4.9"/>
<circle cx="1869.14" cy="252.08" r="4.9"/>
<circle cx="1867.21" cy="244.35" r="4.9"/>
</g>
<rect x="1769" y="238.1" width="107.40000000000009" height="105.4" fill="none" stroke="#000" stroke-width="2"/>
<line x1="1761" y1="242.7" x2="1769" y2="242.7" stroke="#000" stroke-width="2"/>
<line x1="1761" y1="342" x2="1769" y2="342" stroke="#000" stroke-width="2"/>
<line x1="1772.9" y1="343.5" x2="1772.9" y2="351.5" stroke="#000" stroke-width="2"/>
<line x1="1872.5" y1="343.5" x2="1872.5" y2="351.5" stroke="#000" stroke-width="2"/>
<text x="1823.4" y="402.3" text-anchor="middle" style="font-family:'Liberation Sans', Arial, sans-serif;font-size:27px;letter-spacing:2.3px" fill="#000">Skaer</text>
<clipPath id="sc2"><rect x="1731.7" y="417.2" width="181.70000000000005" height="105.09999999999997"/></clipPath>
<g clip-path="url(#sc2)" fill="#1f77b4" stroke="#1b6aa6" stroke-width="0.6">
<circle cx="1740.11" cy="432.46" r="4.9"/>
<circle cx="1753.5" cy="433.35" r="4.9"/>
<circle cx="1774.71" cy="433.35" r="4.9"/>
<circle cx="1743.46" cy="448.64" r="4.9"/>
<circle cx="1764.67" cy="444.73" r="4.9"/>
<circle cx="1783.08" cy="442.5" r="4.9"/>
<circle cx="1793.12" cy="432.23" r="4.9"/>
<circle cx="1796.47" cy="433.01" r="4.9"/>
<circle cx="1799.82" cy="434.13" r="4.9"/>
<circle cx="1803.17" cy="434.69" r="4.9"/>
<circle cx="1808.75" cy="434.69" r="4.9"/>
<circle cx="1818.24" cy="433.57" r="4.9"/>
<circle cx="1827.72" cy="429.67" r="4.9"/>
<circle cx="1831.07" cy="422.41" r="4.9"/>
<circle cx="1829.96" cy="425.76" r="4.9"/>
<circle cx="1843.91" cy="431.34" r="4.9"/>
<circle cx="1853.95" cy="439.15" r="4.9"/>
<circle cx="1843.91" cy="445.85" r="4.9"/>
<circle cx="1844.46" cy="449.75" r="4.9"/>
<circle cx="1854.51" cy="453.66" r="4.9"/>
<circle cx="1864.55" cy="453.66" r="4.9"/>
<circle cx="1874.6" cy="444.73" r="4.9"/>
<circle cx="1894.69" cy="449.75" r="4.9"/>
<circle cx="1904.73" cy="451.99" r="4.9"/>
<circle cx="1814.33" cy="450.31" r="4.9"/>
<circle cx="1768.57" cy="472.08" r="4.9"/>
<circle cx="1764.67" cy="479.89" r="4.9"/>
<circle cx="1804.29" cy="473.19" r="4.9"/>
<circle cx="1816.0" cy="465.94" r="4.9"/>
<circle cx="1816.0" cy="469.84" r="4.9"/>
<circle cx="1829.4" cy="464.82" r="4.9"/>
<circle cx="1832.75" cy="470.96" r="4.9"/>
<circle cx="1853.95" cy="475.98" r="4.9"/>
<circle cx="1874.6" cy="465.94" r="4.9"/>
<circle cx="1874.6" cy="470.96" r="4.9"/>
<circle cx="1894.69" cy="483.24" r="4.9"/>
<circle cx="1747.37" cy="491.61" r="4.9"/>
<circle cx="1763.55" cy="493.28" r="4.9"/>
<circle cx="1793.12" cy="494.96" r="4.9"/>
<circle cx="1792.01" cy="497.75" r="4.9"/>
<circle cx="1813.21" cy="487.14" r="4.9"/>
<circle cx="1819.91" cy="495.51" r="4.9"/>
<circle cx="1830.51" cy="498.3" r="4.9"/>
<circle cx="1843.91" cy="497.75" r="4.9"/>
<circle cx="1843.91" cy="504.44" r="4.9"/>
<circle cx="1864.55" cy="489.93" r="4.9"/>
<circle cx="1815.45" cy="503.88" r="4.9"/>
<circle cx="1797.03" cy="510.58" r="4.9"/>
<circle cx="1816.56" cy="516.72" r="4.9"/>
<circle cx="1830.51" cy="517.28" r="4.9"/>
<circle cx="1843.91" cy="515.6" r="4.9"/>
<circle cx="1864.55" cy="505.56" r="4.9"/>
</g>
<rect x="1731.7" y="417.2" width="181.70000000000005" height="105.09999999999997" fill="none" stroke="#000" stroke-width="2"/>
<line x1="1723.7" y1="422.2" x2="1731.7" y2="422.2" stroke="#000" stroke-width="2"/>
<line x1="1723.7" y1="473.2" x2="1731.7" y2="473.2" stroke="#000" stroke-width="2"/>
<line x1="1731.7" y1="522.3" x2="1731.7" y2="530.3" stroke="#000" stroke-width="2"/>
<line x1="1833.9" y1="522.3" x2="1833.9" y2="530.3" stroke="#000" stroke-width="2"/>
<text x="1823.7" y="581.2" text-anchor="middle" style="font-family:'Liberation Sans', Arial, sans-serif;font-size:27px;letter-spacing:0.3px" fill="#000">EPR</text>
<clipPath id="sc3"><rect x="1804.4" y="596.1" width="36.899999999999864" height="105.89999999999998"/></clipPath>
<g clip-path="url(#sc3)" fill="#1f77b4" stroke="#1b6aa6" stroke-width="0.6">
<polygon points="1811.55,597.26 1821.07,597.26 1821.67,619.88 1830.0,618.1 1835.95,619.88 1839.52,624.05 1839.52,631.19 1836.9,632.38 1836.9,641.31 1839.52,642.5 1839.52,657.38 1835.95,658.57 1827.62,653.81 1822.86,650.24 1821.67,645.48 1821.67,631.19 1815.71,627.62 1813.33,621.67 1811.55,614.52"/>
<polygon points="1805.0,639.52 1809.17,640.71 1811.55,647.86 1817.5,649.05 1821.07,653.81 1827.02,658.57 1834.17,659.76 1839.52,657.38 1839.52,672.26 1834.17,672.86 1828.21,669.29 1830.6,675.24 1830.6,683.57 1825.83,688.93 1819.88,687.14 1816.31,690.71 1824.05,691.9 1826.43,697.26 1821.67,701.43 1805.0,701.43 1805.0,672.26 1809.76,668.69 1805.0,667.5"/>
<circle cx="1827.62" cy="610.36" r="4.9"/>
</g>
<rect x="1804.4" y="596.1" width="36.899999999999864" height="105.89999999999998" fill="none" stroke="#000" stroke-width="2"/>
<line x1="1796.4" y1="610.7" x2="1804.4" y2="610.7" stroke="#000" stroke-width="2"/>
<line x1="1796.4" y1="663.3" x2="1804.4" y2="663.3" stroke="#000" stroke-width="2"/>
<line x1="1811.2" y1="702" x2="1811.2" y2="710" stroke="#000" stroke-width="2"/>
<line x1="1821.7" y1="702" x2="1821.7" y2="710" stroke="#000" stroke-width="2"/>
<line x1="1832" y1="702" x2="1832" y2="710" stroke="#000" stroke-width="2"/>
<text x="1822.5" y="788.5" text-anchor="middle" style="font-family:'Liberation Sans', Arial, sans-serif;font-size:27px;letter-spacing:1.84px" fill="#000">Fukazawa</text>
<clipPath id="sc4"><rect x="1526.1" y="803.6" width="592.7000000000003" height="48.5"/></clipPath>
<g clip-path="url(#sc4)" fill="#1f77b4" stroke="#1b6aa6" stroke-width="0.6">
<circle cx="1553.13" cy="816.29" r="4.9"/>
<circle cx="1553.87" cy="819.95" r="4.9"/>
<circle cx="1553.87" cy="824.34" r="4.9"/>
<circle cx="1675.23" cy="810.45" r="4.9"/>
<circle cx="1675.23" cy="814.1" r="4.9"/>
<circle cx="1674.5" cy="818.49" r="4.9"/>
<circle cx="1673.04" cy="822.87" r="4.9"/>
<circle cx="1673.77" cy="827.26" r="4.9"/>
<circle cx="1673.77" cy="831.65" r="4.9"/>
<circle cx="1784.89" cy="811.18" r="4.9"/>
<circle cx="1783.43" cy="817.76" r="4.9"/>
<circle cx="1786.36" cy="821.41" r="4.9"/>
<circle cx="1787.82" cy="833.11" r="4.9"/>
<circle cx="1790.74" cy="845.1" r="4.9"/>
<circle cx="1828.28" cy="806.79" r="4.9"/>
<circle cx="1828.28" cy="810.45" r="4.9"/>
<circle cx="1829.01" cy="815.56" r="4.9"/>
<circle cx="1830.47" cy="822.87" r="4.9"/>
<circle cx="1831.93" cy="828.72" r="4.9"/>
<circle cx="1891.15" cy="808.25" r="4.9"/>
<circle cx="1892.61" cy="822.14" r="4.9"/>
<circle cx="1896.27" cy="832.67" r="4.9"/>
<circle cx="1933.56" cy="806.06" r="4.9"/>
<circle cx="1934.29" cy="810.45" r="4.9"/>
<circle cx="1935.02" cy="815.56" r="4.9"/>
<circle cx="1935.75" cy="821.41" r="4.9"/>
<circle cx="1936.48" cy="825.8" r="4.9"/>
<circle cx="1938.67" cy="835.3" r="4.9"/>
<circle cx="1963.53" cy="812.64" r="4.9"/>
<circle cx="1962.07" cy="818.49" r="4.9"/>
<circle cx="1961.34" cy="824.34" r="4.9"/>
<circle cx="1962.07" cy="828.72" r="4.9"/>
<circle cx="1958.41" cy="835.3" r="4.9"/>
<circle cx="1987.66" cy="811.18" r="4.9"/>
<circle cx="1992.04" cy="827.99" r="4.9"/>
<circle cx="1991.31" cy="834.57" r="4.9"/>
<circle cx="1993.51" cy="840.42" r="4.9"/>
<circle cx="1996.43" cy="845.54" r="4.9"/>
<circle cx="2027.87" cy="810.45" r="4.9"/>
<circle cx="2032.25" cy="824.34" r="4.9"/>
<circle cx="2033.72" cy="835.3" r="4.9"/>
<circle cx="2035.91" cy="844.81" r="4.9"/>
<circle cx="2083.43" cy="810.45" r="4.9"/>
<circle cx="2083.43" cy="817.76" r="4.9"/>
<circle cx="2084.89" cy="827.26" r="4.9"/>
<circle cx="2088.55" cy="837.5" r="4.9"/>
<circle cx="2091.47" cy="848.46" r="4.9"/>
</g>
<rect x="1526.1" y="803.6" width="592.7000000000003" height="48.5" fill="none" stroke="#000" stroke-width="2"/>
<line x1="1518.1" y1="805.6" x2="1526.1" y2="805.6" stroke="#000" stroke-width="2"/>
<line x1="1518.1" y1="822.6" x2="1526.1" y2="822.6" stroke="#000" stroke-width="2"/>
<line x1="1518.1" y1="839" x2="1526.1" y2="839" stroke="#000" stroke-width="2"/>
<line x1="1642.8" y1="852.1" x2="1642.8" y2="860.1" stroke="#000" stroke-width="2"/>
<line x1="1809.8" y1="852.1" x2="1809.8" y2="860.1" stroke="#000" stroke-width="2"/>
<line x1="1976" y1="852.1" x2="1976" y2="860.1" stroke="#000" stroke-width="2"/>
<text x="1822.4" y="961.3" text-anchor="middle" style="font-family:'Liberation Sans', Arial, sans-serif;font-size:27px;letter-spacing:1.56px" fill="#000">Solea</text>
<clipPath id="sc5"><rect x="1526.4" y="976.2" width="592.0999999999999" height="61.200000000000045"/></clipPath>
<g clip-path="url(#sc5)" fill="#1f77b4" stroke="#1b6aa6" stroke-width="0.6">
<circle cx="1553.57" cy="988.37" r="4.9"/>
<circle cx="1561.91" cy="993.2" r="4.9"/>
<circle cx="1559.71" cy="1002.55" r="4.9"/>
<circle cx="1566.29" cy="1012.2" r="4.9"/>
<circle cx="1572.87" cy="1027.41" r="4.9"/>
<circle cx="1584.86" cy="1006.21" r="4.9"/>
<circle cx="1591.15" cy="987.64" r="4.9"/>
<circle cx="1603.29" cy="996.7" r="4.9"/>
<circle cx="1605.77" cy="1033.7" r="4.9"/>
<circle cx="1614.26" cy="1014.84" r="4.9"/>
<circle cx="1617.03" cy="981.5" r="4.9"/>
<circle cx="1628.15" cy="1001.97" r="4.9"/>
<circle cx="1637.94" cy="1030.04" r="4.9"/>
<circle cx="1653.0" cy="1008.84" r="4.9"/>
<circle cx="1655.2" cy="987.93" r="4.9"/>
<circle cx="1667.19" cy="1017.18" r="4.9"/>
<circle cx="1685.9" cy="993.49" r="4.9"/>
<circle cx="1696.43" cy="1000.8" r="4.9"/>
<circle cx="1698.92" cy="1007.67" r="4.9"/>
<circle cx="1711.05" cy="984.71" r="4.9"/>
<circle cx="1710.03" cy="992.03" r="4.9"/>
<circle cx="1713.25" cy="1019.08" r="4.9"/>
<circle cx="1730.06" cy="1001.53" r="4.9"/>
<circle cx="1735.18" cy="1008.4" r="4.9"/>
<circle cx="1759.01" cy="984.71" r="4.9"/>
<circle cx="1764.42" cy="1004.45" r="4.9"/>
<circle cx="1760.33" cy="1012.5" r="4.9"/>
<circle cx="1781.97" cy="994.22" r="4.9"/>
<circle cx="1780.51" cy="1015.42" r="4.9"/>
<circle cx="1797.32" cy="981.5" r="4.9"/>
<circle cx="1809.75" cy="992.76" r="4.9"/>
<circle cx="1815.12" cy="981.06" r="4.9"/>
<circle cx="1811.46" cy="992.76" r="4.9"/>
<circle cx="1819.5" cy="997.87" r="4.9"/>
<circle cx="1823.89" cy="1015.13" r="4.9"/>
<circle cx="1828.28" cy="981.06" r="4.9"/>
<circle cx="1831.93" cy="1000.51" r="4.9"/>
<circle cx="1841.44" cy="981.5" r="4.9"/>
<circle cx="1841.14" cy="1011.03" r="4.9"/>
<circle cx="1852.84" cy="1000.8" r="4.9"/>
<circle cx="1855.04" cy="985.45" r="4.9"/>
<circle cx="1868.49" cy="990.56" r="4.9"/>
<circle cx="1872.14" cy="981.06" r="4.9"/>
<circle cx="1877.99" cy="1003.28" r="4.9"/>
<circle cx="1885.74" cy="981.79" r="4.9"/>
<circle cx="1885.74" cy="990.56" r="4.9"/>
<circle cx="1889.25" cy="1013.52" r="4.9"/>
<circle cx="1901.39" cy="981.06" r="4.9"/>
<circle cx="1905.04" cy="993.78" r="4.9"/>
<circle cx="1905.77" cy="1009.28" r="4.9"/>
<circle cx="1916.45" cy="989.83" r="4.9"/>
<circle cx="1919.67" cy="984.42" r="4.9"/>
<circle cx="1940.14" cy="1010.74" r="4.9"/>
<circle cx="1943.06" cy="986.18" r="4.9"/>
<circle cx="1946.72" cy="980.33" r="4.9"/>
<circle cx="1948.18" cy="993.2" r="4.9"/>
<circle cx="1962.8" cy="980.04" r="4.9"/>
<circle cx="1965.72" cy="989.1" r="4.9"/>
<circle cx="1964.26" cy="998.61" r="4.9"/>
<circle cx="1966.89" cy="1016.15" r="4.9"/>
<circle cx="1979.32" cy="983.25" r="4.9"/>
<circle cx="1977.42" cy="992.46" r="4.9"/>
<circle cx="1979.62" cy="1001.53" r="4.9"/>
<circle cx="1986.2" cy="1011.47" r="4.9"/>
<circle cx="1990.87" cy="986.47" r="4.9"/>
<circle cx="1991.31" cy="997.58" r="4.9"/>
<circle cx="2001.26" cy="995.97" r="4.9"/>
<circle cx="2007.1" cy="985.88" r="4.9"/>
<circle cx="2009.59" cy="1007.38" r="4.9"/>
<circle cx="2018.36" cy="996.41" r="4.9"/>
<circle cx="2022.02" cy="1003.72" r="4.9"/>
<circle cx="2052.73" cy="996.12" r="4.9"/>
<circle cx="2060.77" cy="987.64" r="4.9"/>
<circle cx="2091.47" cy="985.88" r="4.9"/>
</g>
<rect x="1526.4" y="976.2" width="592.0999999999999" height="61.200000000000045" fill="none" stroke="#000" stroke-width="2"/>
<line x1="1518.4" y1="976.2" x2="1526.4" y2="976.2" stroke="#000" stroke-width="2"/>
<line x1="1518.4" y1="997.9" x2="1526.4" y2="997.9" stroke="#000" stroke-width="2"/>
<line x1="1518.4" y1="1020.1" x2="1526.4" y2="1020.1" stroke="#000" stroke-width="2"/>
<line x1="1540.7" y1="1037.4" x2="1540.7" y2="1045.4" stroke="#000" stroke-width="2"/>
<line x1="1764.7" y1="1037.4" x2="1764.7" y2="1045.4" stroke="#000" stroke-width="2"/>
<line x1="1988.7" y1="1037.4" x2="1988.7" y2="1045.4" stroke="#000" stroke-width="2"/>
<text x="1822.9" y="1119.9" text-anchor="middle" style="font-family:'Liberation Sans', Arial, sans-serif;font-size:27px;letter-spacing:1.77px" fill="#000">Pano</text>
<clipPath id="sc6"><rect x="1526.4" y="1134.8" width="592.0999999999999" height="102.0"/></clipPath>
<g clip-path="url(#sc6)" fill="#1f77b4" stroke="#1b6aa6" stroke-width="0.6">
<circle cx="1553.13" cy="1186.39" r="4.9"/>
<circle cx="1559.71" cy="1191.51" r="4.9"/>
<circle cx="1570.68" cy="1195.89" r="4.9"/>
<circle cx="1571.41" cy="1203.2" r="4.9"/>
<circle cx="1572.87" cy="1210.51" r="4.9"/>
<circle cx="1575.8" cy="1216.36" r="4.9"/>
<circle cx="1569.95" cy="1224.4" r="4.9"/>
<circle cx="1574.34" cy="1226.6" r="4.9"/>
<circle cx="1577.99" cy="1229.52" r="4.9"/>
<circle cx="1584.57" cy="1182.0" r="4.9"/>
<circle cx="1591.15" cy="1184.93" r="4.9"/>
<circle cx="1591.88" cy="1194.43" r="4.9"/>
<circle cx="1588.96" cy="1203.2" r="4.9"/>
<circle cx="1591.88" cy="1211.98" r="4.9"/>
<circle cx="1587.5" cy="1217.82" r="4.9"/>
<circle cx="1594.81" cy="1220.75" r="4.9"/>
<circle cx="1597.73" cy="1226.6" r="4.9"/>
<circle cx="1596.27" cy="1230.98" r="4.9"/>
<circle cx="1600.66" cy="1222.21" r="4.9"/>
<circle cx="1605.04" cy="1176.88" r="4.9"/>
<circle cx="1605.77" cy="1184.19" r="4.9"/>
<circle cx="1603.58" cy="1190.04" r="4.9"/>
<circle cx="1609.43" cy="1188.58" r="4.9"/>
<circle cx="1612.35" cy="1187.12" r="4.9"/>
<circle cx="1613.82" cy="1194.43" r="4.9"/>
<circle cx="1600.66" cy="1200.28" r="4.9"/>
<circle cx="1605.04" cy="1206.13" r="4.9"/>
<circle cx="1597.73" cy="1206.13" r="4.9"/>
<circle cx="1610.89" cy="1200.28" r="4.9"/>
<circle cx="1613.82" cy="1211.98" r="4.9"/>
<circle cx="1613.09" cy="1219.29" r="4.9"/>
<circle cx="1613.82" cy="1226.6" r="4.9"/>
<circle cx="1613.82" cy="1230.98" r="4.9"/>
<circle cx="1606.51" cy="1165.19" r="4.9"/>
<circle cx="1613.82" cy="1165.92" r="4.9"/>
<circle cx="1621.86" cy="1173.96" r="4.9"/>
<circle cx="1630.63" cy="1179.81" r="4.9"/>
<circle cx="1624.05" cy="1187.12" r="4.9"/>
<circle cx="1625.51" cy="1192.97" r="4.9"/>
<circle cx="1622.59" cy="1206.13" r="4.9"/>
<circle cx="1626.98" cy="1210.51" r="4.9"/>
<circle cx="1629.9" cy="1214.9" r="4.9"/>
<circle cx="1625.51" cy="1220.75" r="4.9"/>
<circle cx="1629.9" cy="1222.21" r="4.9"/>
<circle cx="1635.75" cy="1195.89" r="4.9"/>
<circle cx="1640.14" cy="1192.97" r="4.9"/>
<circle cx="1635.75" cy="1200.28" r="4.9"/>
<circle cx="1644.52" cy="1204.67" r="4.9"/>
<circle cx="1645.98" cy="1218.56" r="4.9"/>
<circle cx="1637.21" cy="1227.33" r="4.9"/>
<circle cx="1644.52" cy="1229.52" r="4.9"/>
<circle cx="1664.26" cy="1170.3" r="4.9"/>
<circle cx="1664.99" cy="1200.28" r="4.9"/>
<circle cx="1668.65" cy="1204.67" r="4.9"/>
<circle cx="1667.92" cy="1217.82" r="4.9"/>
<circle cx="1670.84" cy="1222.21" r="4.9"/>
<circle cx="1667.19" cy="1227.33" r="4.9"/>
<circle cx="1672.3" cy="1192.97" r="4.9"/>
<circle cx="1676.69" cy="1197.35" r="4.9"/>
<circle cx="1679.62" cy="1203.2" r="4.9"/>
<circle cx="1684.0" cy="1209.05" r="4.9"/>
<circle cx="1686.93" cy="1214.9" r="4.9"/>
<circle cx="1682.54" cy="1226.6" r="4.9"/>
<circle cx="1686.93" cy="1230.98" r="4.9"/>
<circle cx="1692.78" cy="1230.98" r="4.9"/>
<circle cx="1689.85" cy="1197.35" r="4.9"/>
<circle cx="1694.24" cy="1195.89" r="4.9"/>
<circle cx="1695.7" cy="1203.2" r="4.9"/>
<circle cx="1694.24" cy="1209.05" r="4.9"/>
<circle cx="1691.31" cy="1219.29" r="4.9"/>
<circle cx="1698.62" cy="1215.63" r="4.9"/>
<circle cx="1694.97" cy="1184.19" r="4.9"/>
<circle cx="1701.55" cy="1157.87" r="4.9"/>
<circle cx="1699.36" cy="1165.92" r="4.9"/>
<circle cx="1708.13" cy="1210.51" r="4.9"/>
<circle cx="1710.32" cy="1217.82" r="4.9"/>
<circle cx="1716.17" cy="1220.75" r="4.9"/>
<circle cx="1711.05" cy="1230.98" r="4.9"/>
<circle cx="1714.71" cy="1201.74" r="4.9"/>
<circle cx="1717.63" cy="1171.77" r="4.9"/>
<circle cx="1718.36" cy="1186.39" r="4.9"/>
<circle cx="1732.25" cy="1220.75" r="4.9"/>
<circle cx="1732.99" cy="1228.79" r="4.9"/>
<circle cx="1737.37" cy="1208.32" r="4.9"/>
<circle cx="1740.3" cy="1174.69" r="4.9"/>
<circle cx="1740.3" cy="1185.66" r="4.9"/>
<circle cx="1749.8" cy="1187.85" r="4.9"/>
<circle cx="1751.99" cy="1168.84" r="4.9"/>
<circle cx="1752.73" cy="1198.82" r="4.9"/>
<circle cx="1749.8" cy="1204.67" r="4.9"/>
<circle cx="1756.38" cy="1216.36" r="4.9"/>
<circle cx="1760.77" cy="1158.61" r="4.9"/>
<circle cx="1787.82" cy="1153.49" r="4.9"/>
<circle cx="1789.28" cy="1173.23" r="4.9"/>
<circle cx="1790.74" cy="1190.04" r="4.9"/>
<circle cx="1790.74" cy="1207.59" r="4.9"/>
<circle cx="1795.86" cy="1228.79" r="4.9"/>
<circle cx="1823.89" cy="1151.0" r="4.9"/>
<circle cx="1832.66" cy="1164.89" r="4.9"/>
<circle cx="1831.93" cy="1179.52" r="4.9"/>
<circle cx="1832.37" cy="1198.52" r="4.9"/>
<circle cx="1832.37" cy="1211.68" r="4.9"/>
<circle cx="1872.87" cy="1155.24" r="4.9"/>
<circle cx="1873.9" cy="1172.06" r="4.9"/>
<circle cx="1873.9" cy="1186.83" r="4.9"/>
<circle cx="1873.9" cy="1199.11" r="4.9"/>
<circle cx="1873.31" cy="1208.76" r="4.9"/>
<circle cx="1873.31" cy="1222.65" r="4.9"/>
<circle cx="1899.93" cy="1159.34" r="4.9"/>
<circle cx="1912.79" cy="1174.4" r="4.9"/>
<circle cx="1903.29" cy="1184.63" r="4.9"/>
<circle cx="1906.51" cy="1201.3" r="4.9"/>
<circle cx="1907.24" cy="1216.36" r="4.9"/>
<circle cx="1941.31" cy="1231.72" r="4.9"/>
<circle cx="1949.93" cy="1151.73" r="4.9"/>
<circle cx="1951.1" cy="1169.86" r="4.9"/>
<circle cx="1952.56" cy="1186.39" r="4.9"/>
<circle cx="1952.56" cy="1199.55" r="4.9"/>
<circle cx="1982.98" cy="1140.04" r="4.9"/>
<circle cx="1983.56" cy="1154.22" r="4.9"/>
<circle cx="1984.0" cy="1171.03" r="4.9"/>
<circle cx="1984.73" cy="1186.1" r="4.9"/>
<circle cx="1985.03" cy="1200.28" r="4.9"/>
<circle cx="2022.75" cy="1148.37" r="4.9"/>
<circle cx="2020.56" cy="1158.61" r="4.9"/>
<circle cx="2017.63" cy="1178.05" r="4.9"/>
<circle cx="2019.53" cy="1189.31" r="4.9"/>
<circle cx="2019.39" cy="1202.91" r="4.9"/>
<circle cx="2044.39" cy="1156.85" r="4.9"/>
<circle cx="2044.68" cy="1170.6" r="4.9"/>
<circle cx="2043.95" cy="1182.0" r="4.9"/>
<circle cx="2042.49" cy="1197.79" r="4.9"/>
<circle cx="2041.76" cy="1210.22" r="4.9"/>
<circle cx="2089.72" cy="1147.2" r="4.9"/>
<circle cx="2087.82" cy="1159.34" r="4.9"/>
<circle cx="2086.79" cy="1172.06" r="4.9"/>
<circle cx="2091.47" cy="1189.02" r="4.9"/>
<circle cx="2088.84" cy="1205.83" r="4.9"/>
<circle cx="1588.96" cy="1188.58" r="4.9"/>
<circle cx="1597.73" cy="1197.35" r="4.9"/>
<circle cx="1600.66" cy="1209.05" r="4.9"/>
<circle cx="1609.43" cy="1206.13" r="4.9"/>
<circle cx="1618.2" cy="1197.35" r="4.9"/>
<circle cx="1621.13" cy="1203.2" r="4.9"/>
<circle cx="1618.2" cy="1220.75" r="4.9"/>
<circle cx="1609.43" cy="1223.67" r="4.9"/>
<circle cx="1591.88" cy="1226.6" r="4.9"/>
<circle cx="1603.58" cy="1214.9" r="4.9"/>
<circle cx="1597.73" cy="1188.58" r="4.9"/>
<circle cx="1612.35" cy="1179.81" r="4.9"/>
<circle cx="1606.51" cy="1194.43" r="4.9"/>
<circle cx="1594.81" cy="1206.13" r="4.9"/>
<circle cx="1586.03" cy="1211.98" r="4.9"/>
<circle cx="1616.74" cy="1188.58" r="4.9"/>
<circle cx="1675.23" cy="1206.13" r="4.9"/>
<circle cx="1682.54" cy="1214.9" r="4.9"/>
<circle cx="1689.85" cy="1223.67" r="4.9"/>
<circle cx="1678.15" cy="1223.67" r="4.9"/>
<circle cx="1695.7" cy="1197.35" r="4.9"/>
<circle cx="1670.84" cy="1211.98" r="4.9"/>
<circle cx="1580.19" cy="1220.75" r="4.9"/>
<circle cx="1583.11" cy="1197.35" r="4.9"/>
<circle cx="1621.13" cy="1226.6" r="4.9"/>
</g>
<rect x="1526.4" y="1134.8" width="592.0999999999999" height="102.0" fill="none" stroke="#000" stroke-width="2"/>
<line x1="1518.4" y1="1162.3" x2="1526.4" y2="1162.3" stroke="#000" stroke-width="2"/>
<line x1="1518.4" y1="1232.2" x2="1526.4" y2="1232.2" stroke="#000" stroke-width="2"/>
<line x1="1553.1" y1="1236.8" x2="1553.1" y2="1244.8" stroke="#000" stroke-width="2"/>
<line x1="1833.4" y1="1236.8" x2="1833.4" y2="1244.8" stroke="#000" stroke-width="2"/>
<line x1="2113.4" y1="1236.8" x2="2113.4" y2="1244.8" stroke="#000" stroke-width="2"/>
</svg></body></html>
